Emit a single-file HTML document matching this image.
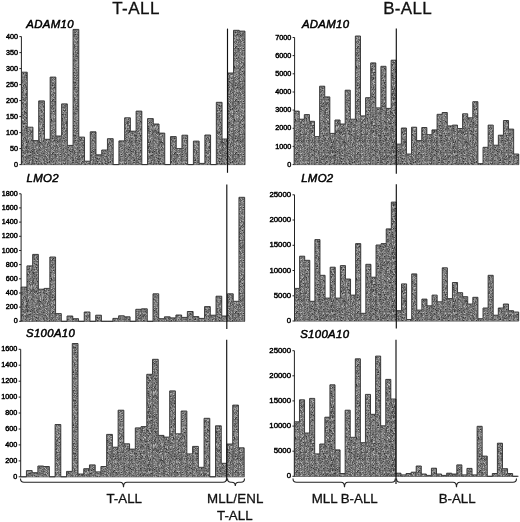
<!DOCTYPE html>
<html lang="en"><head><meta charset="utf-8"><title>T-ALL / B-ALL expression</title>
<style>
html,body{margin:0;padding:0;background:#fff}
body{width:520px;height:522px;overflow:hidden}
svg{display:block}
text{font-family:"Liberation Sans",sans-serif;fill:#111}
.t{stroke:#111;stroke-width:0.3}
.tk{fill:#000;stroke:#000;stroke-width:0.45}
.g{font-style:italic;fill:#000;stroke:#000;stroke-width:0.5;letter-spacing:0.33px}
</style></head><body>
<svg width="520" height="522" viewBox="0 0 520 522">
<defs><pattern id="st" width="61" height="53" patternUnits="userSpaceOnUse">
<rect width="61" height="53" fill="#787878"/>
<path d="M12 1.5h1M21 2.5h1M36 2.5h1M49 2.5h1M47 3.5h1M38 4.5h1M44 4.5h1M24 5.5h1M53 5.5h1M25 6.5h1M1 8.5h1M33 8.5h1M1 12.5h1M51 13.5h1M51 14.5h1M13 15.5h1M18 15.5h1M27 16.5h1M32 16.5h1M37 16.5h1M46 16.5h1M24 17.5h1M59 18.5h1M8 19.5h1M23 20.5h1M26 22.5h1M7 25.5h1M44 25.5h1M36 26.5h1M37 28.5h1M46 28.5h1M14 29.5h1M18 29.5h1M20 32.5h1M52 32.5h1M14 34.5h1M54 34.5h1M28 35.5h1M57 35.5h1M26 36.5h1M40 36.5h1M7 41.5h1M6 43.5h1M8 44.5h1M18 44.5h1M9 45.5h1M32 45.5h1M27 46.5h1M30 46.5h1M53 46.5h1M52 47.5h1M55 48.5h1M60 48.5h1M29 49.5h1M18 50.5h1M36 52.5h1" stroke="#343434" stroke-width="1" shape-rendering="crispEdges"/>
<path d="M12 0.5h1M16 0.5h1M17 0.5h1M43 0.5h1M46 0.5h1M52 0.5h1M6 1.5h1M11 1.5h1M25 1.5h1M29 1.5h1M32 1.5h1M44 2.5h1M53 2.5h1M11 3.5h1M12 3.5h1M16 3.5h1M29 3.5h1M49 3.5h1M2 4.5h1M4 4.5h1M20 4.5h1M28 4.5h1M34 4.5h1M41 4.5h1M55 4.5h1M0 5.5h1M31 5.5h1M20 6.5h1M14 7.5h1M26 7.5h1M29 7.5h1M32 7.5h1M33 7.5h1M50 7.5h1M4 8.5h1M23 9.5h1M27 9.5h1M28 9.5h1M58 9.5h1M6 10.5h1M36 10.5h1M39 10.5h1M44 10.5h1M21 11.5h1M26 11.5h1M34 11.5h1M50 11.5h1M26 12.5h1M32 12.5h1M41 12.5h1M6 13.5h1M8 13.5h1M24 13.5h1M36 13.5h1M59 13.5h1M1 14.5h1M58 14.5h1M60 14.5h1M6 15.5h1M33 15.5h1M44 15.5h1M5 16.5h1M19 16.5h1M29 16.5h1M57 16.5h1M5 17.5h1M23 17.5h1M33 17.5h1M29 18.5h1M43 18.5h1M9 19.5h1M12 19.5h1M13 19.5h1M32 19.5h1M38 19.5h1M48 19.5h1M10 20.5h1M26 20.5h1M43 20.5h1M56 20.5h1M60 20.5h1M20 21.5h1M57 21.5h1M1 22.5h1M3 22.5h1M13 22.5h1M21 22.5h1M36 22.5h1M42 22.5h1M18 23.5h1M7 24.5h1M9 24.5h1M12 24.5h1M14 24.5h1M26 24.5h1M33 24.5h1M43 24.5h1M56 24.5h1M28 25.5h1M48 25.5h1M55 25.5h1M56 25.5h1M6 26.5h1M31 26.5h1M10 27.5h1M17 27.5h1M21 27.5h1M30 27.5h1M34 27.5h1M40 27.5h1M43 27.5h1M0 28.5h1M44 28.5h1M56 28.5h1M57 28.5h1M12 29.5h1M13 29.5h1M40 29.5h1M18 30.5h1M4 31.5h1M24 31.5h1M2 32.5h1M9 32.5h1M14 32.5h1M23 32.5h1M25 32.5h1M45 32.5h1M49 33.5h1M3 34.5h1M7 34.5h1M19 34.5h1M31 34.5h1M43 34.5h1M46 34.5h1M9 35.5h1M17 35.5h1M39 35.5h1M43 35.5h1M6 36.5h1M38 36.5h1M39 36.5h1M48 36.5h1M17 37.5h1M23 37.5h1M27 38.5h1M47 38.5h1M2 39.5h1M10 39.5h1M22 39.5h1M49 39.5h1M56 39.5h1M26 40.5h1M27 40.5h1M39 40.5h1M16 41.5h1M26 41.5h1M40 41.5h1M26 42.5h1M28 42.5h1M2 43.5h1M11 43.5h1M34 43.5h1M39 43.5h1M22 44.5h1M31 44.5h1M13 45.5h1M27 45.5h1M36 45.5h1M23 46.5h1M9 47.5h1M13 47.5h1M34 47.5h1M37 47.5h1M43 47.5h1M7 48.5h1M7 49.5h1M30 49.5h1M47 49.5h1M3 50.5h1M22 50.5h1M45 50.5h1M21 51.5h1M25 51.5h1M34 51.5h1M38 52.5h1" stroke="#484848" stroke-width="1" shape-rendering="crispEdges"/>
<path d="M4 0.5h1M18 0.5h1M37 0.5h1M59 0.5h1M2 1.5h1M3 1.5h1M7 1.5h1M15 1.5h1M35 1.5h1M47 1.5h1M51 1.5h1M56 1.5h1M58 1.5h1M22 2.5h1M39 2.5h1M51 2.5h1M4 3.5h1M14 3.5h1M15 3.5h1M20 3.5h1M22 3.5h1M25 3.5h1M36 3.5h1M3 4.5h1M6 4.5h1M17 4.5h1M27 4.5h1M32 4.5h1M36 4.5h1M45 4.5h1M3 5.5h1M9 5.5h1M15 5.5h1M37 5.5h1M42 5.5h1M45 5.5h1M46 5.5h1M51 5.5h1M13 6.5h1M19 6.5h1M22 6.5h1M24 6.5h1M26 6.5h1M29 6.5h1M41 6.5h1M58 6.5h1M9 7.5h1M12 7.5h1M20 7.5h1M24 7.5h1M34 7.5h1M36 7.5h1M43 7.5h1M45 7.5h1M46 7.5h1M51 7.5h1M2 8.5h1M7 8.5h1M19 8.5h1M22 8.5h1M45 8.5h1M47 8.5h1M26 9.5h1M34 9.5h1M36 9.5h1M41 9.5h1M49 9.5h1M7 10.5h1M9 10.5h1M10 10.5h1M18 10.5h1M24 10.5h1M48 10.5h1M49 10.5h1M50 10.5h1M60 10.5h1M0 11.5h1M3 11.5h1M25 11.5h1M49 11.5h1M60 11.5h1M20 12.5h1M23 12.5h1M1 13.5h1M21 13.5h1M30 13.5h1M33 13.5h1M34 13.5h1M41 13.5h1M56 13.5h1M16 14.5h1M33 14.5h1M36 14.5h1M44 14.5h1M5 15.5h1M22 15.5h1M39 15.5h1M51 15.5h1M55 15.5h1M57 15.5h1M59 15.5h1M22 16.5h1M50 16.5h1M56 16.5h1M4 17.5h1M6 17.5h1M15 17.5h1M25 17.5h1M56 17.5h1M0 18.5h1M3 18.5h1M20 18.5h1M33 18.5h1M35 18.5h1M46 18.5h1M49 18.5h1M0 19.5h1M5 19.5h1M6 19.5h1M7 19.5h1M30 19.5h1M35 19.5h1M42 19.5h1M49 19.5h1M50 19.5h1M7 20.5h1M12 20.5h1M30 20.5h1M37 20.5h1M2 21.5h1M7 21.5h1M8 21.5h1M12 21.5h1M38 21.5h1M45 21.5h1M48 21.5h1M53 21.5h1M5 22.5h1M16 22.5h1M20 22.5h1M25 22.5h1M38 22.5h1M41 22.5h1M46 22.5h1M56 22.5h1M10 23.5h1M11 23.5h1M15 23.5h1M37 23.5h1M46 23.5h1M1 24.5h1M4 24.5h1M5 24.5h1M6 24.5h1M24 24.5h1M30 24.5h1M32 24.5h1M38 24.5h1M39 24.5h1M42 24.5h1M44 24.5h1M46 24.5h1M51 24.5h1M52 24.5h1M60 24.5h1M4 25.5h1M9 25.5h1M10 25.5h1M15 25.5h1M16 25.5h1M27 25.5h1M31 25.5h1M32 25.5h1M34 25.5h1M38 25.5h1M1 26.5h1M7 26.5h1M34 26.5h1M35 26.5h1M52 26.5h1M54 26.5h1M58 26.5h1M1 27.5h1M19 27.5h1M22 27.5h1M27 27.5h1M38 27.5h1M39 27.5h1M49 27.5h1M50 27.5h1M56 27.5h1M1 28.5h1M4 28.5h1M12 28.5h1M29 28.5h1M33 28.5h1M59 28.5h1M8 29.5h1M21 29.5h1M22 29.5h1M46 29.5h1M47 29.5h1M50 29.5h1M56 29.5h1M6 30.5h1M35 30.5h1M48 30.5h1M52 30.5h1M53 30.5h1M55 30.5h1M59 30.5h1M15 31.5h1M19 31.5h1M27 31.5h1M33 31.5h1M49 31.5h1M54 31.5h1M57 31.5h1M3 32.5h1M13 32.5h1M17 32.5h1M36 32.5h1M56 32.5h1M18 33.5h1M19 33.5h1M23 33.5h1M31 33.5h1M37 33.5h1M57 33.5h1M59 33.5h1M60 33.5h1M1 34.5h1M5 34.5h1M13 34.5h1M16 34.5h1M22 34.5h1M26 34.5h1M32 34.5h1M50 34.5h1M56 34.5h1M59 34.5h1M1 35.5h1M4 35.5h1M7 35.5h1M10 35.5h1M13 35.5h1M26 35.5h1M33 35.5h1M37 35.5h1M38 35.5h1M50 35.5h1M53 35.5h1M59 35.5h1M8 36.5h1M9 36.5h1M13 36.5h1M15 36.5h1M22 36.5h1M27 36.5h1M28 36.5h1M58 36.5h1M21 37.5h1M41 37.5h1M45 37.5h1M7 38.5h1M9 38.5h1M16 38.5h1M39 38.5h1M42 38.5h1M51 38.5h1M0 39.5h1M15 39.5h1M36 39.5h1M39 39.5h1M47 39.5h1M53 39.5h1M43 40.5h1M48 40.5h1M50 40.5h1M54 40.5h1M57 40.5h1M59 40.5h1M60 40.5h1M18 41.5h1M21 41.5h1M25 41.5h1M46 41.5h1M53 41.5h1M58 41.5h1M0 42.5h1M2 42.5h1M4 42.5h1M16 42.5h1M51 42.5h1M53 42.5h1M55 42.5h1M57 42.5h1M60 42.5h1M20 43.5h1M32 43.5h1M46 43.5h1M52 43.5h1M0 44.5h1M25 44.5h1M26 44.5h1M27 44.5h1M37 44.5h1M40 44.5h1M44 44.5h1M46 44.5h1M54 44.5h1M2 45.5h1M10 45.5h1M11 45.5h1M28 45.5h1M42 45.5h1M4 46.5h1M5 46.5h1M13 46.5h1M14 46.5h1M16 46.5h1M34 46.5h1M37 46.5h1M2 47.5h1M3 47.5h1M24 47.5h1M25 47.5h1M41 47.5h1M44 47.5h1M47 47.5h1M4 48.5h1M39 48.5h1M46 48.5h1M51 48.5h1M52 48.5h1M54 48.5h1M57 48.5h1M8 49.5h1M16 49.5h1M22 49.5h1M23 49.5h1M28 49.5h1M34 49.5h1M36 49.5h1M37 49.5h1M41 49.5h1M42 49.5h1M49 49.5h1M55 49.5h1M0 50.5h1M6 50.5h1M15 50.5h1M21 50.5h1M27 50.5h1M44 50.5h1M49 50.5h1M52 50.5h1M56 50.5h1M59 50.5h1M60 50.5h1M5 51.5h1M10 51.5h1M11 51.5h1M14 51.5h1M17 51.5h1M20 51.5h1M23 51.5h1M28 51.5h1M32 51.5h1M42 51.5h1M46 51.5h1M49 51.5h1M3 52.5h1M4 52.5h1M9 52.5h1M14 52.5h1M16 52.5h1M26 52.5h1M35 52.5h1M51 52.5h1M53 52.5h1" stroke="#5a5a5a" stroke-width="1" shape-rendering="crispEdges"/>
<path d="M19 0.5h1M23 0.5h1M26 0.5h1M30 0.5h1M31 0.5h1M32 0.5h1M36 0.5h1M38 0.5h1M40 0.5h1M47 0.5h1M49 0.5h1M0 1.5h1M1 1.5h1M4 1.5h1M14 1.5h1M30 1.5h1M43 1.5h1M44 1.5h1M50 1.5h1M59 1.5h1M14 2.5h1M15 2.5h1M18 2.5h1M26 2.5h1M29 2.5h1M32 2.5h1M37 2.5h1M45 2.5h1M46 2.5h1M32 3.5h1M41 3.5h1M48 3.5h1M52 3.5h1M0 4.5h1M10 4.5h1M18 4.5h1M21 4.5h1M29 4.5h1M31 4.5h1M33 4.5h1M40 4.5h1M47 4.5h1M59 4.5h1M16 5.5h1M19 5.5h1M20 5.5h1M34 5.5h1M38 5.5h1M41 5.5h1M54 5.5h1M57 5.5h1M2 6.5h1M5 6.5h1M6 6.5h1M28 6.5h1M30 6.5h1M54 6.5h1M10 7.5h1M13 7.5h1M15 7.5h1M35 7.5h1M44 7.5h1M56 7.5h1M60 7.5h1M13 8.5h1M18 8.5h1M20 8.5h1M21 8.5h1M24 8.5h1M27 8.5h1M29 8.5h1M34 8.5h1M54 8.5h1M58 8.5h1M2 9.5h1M4 9.5h1M6 9.5h1M7 9.5h1M11 9.5h1M17 9.5h1M21 9.5h1M30 9.5h1M43 9.5h1M47 9.5h1M48 9.5h1M50 9.5h1M55 9.5h1M59 9.5h1M12 10.5h1M21 10.5h1M27 10.5h1M33 10.5h1M47 10.5h1M56 10.5h1M57 10.5h1M5 11.5h1M9 11.5h1M12 11.5h1M14 11.5h1M18 11.5h1M23 11.5h1M29 11.5h1M32 11.5h1M35 11.5h1M40 11.5h1M43 11.5h1M45 11.5h1M0 12.5h1M3 12.5h1M8 12.5h1M9 12.5h1M10 12.5h1M39 12.5h1M42 12.5h1M45 12.5h1M48 12.5h1M53 12.5h1M59 12.5h1M60 12.5h1M9 13.5h1M10 13.5h1M11 13.5h1M14 13.5h1M38 13.5h1M40 13.5h1M42 13.5h1M44 13.5h1M49 13.5h1M50 13.5h1M53 13.5h1M9 14.5h1M11 14.5h1M17 14.5h1M24 14.5h1M25 14.5h1M29 14.5h1M39 14.5h1M42 14.5h1M46 14.5h1M48 14.5h1M52 14.5h1M55 14.5h1M1 15.5h1M9 15.5h1M23 15.5h1M26 15.5h1M28 15.5h1M30 15.5h1M32 15.5h1M36 15.5h1M43 15.5h1M50 15.5h1M52 15.5h1M53 15.5h1M54 15.5h1M2 16.5h1M6 16.5h1M8 16.5h1M20 16.5h1M41 16.5h1M43 16.5h1M45 16.5h1M1 17.5h1M2 17.5h1M9 17.5h1M10 17.5h1M12 17.5h1M17 17.5h1M22 17.5h1M26 17.5h1M31 17.5h1M32 17.5h1M45 17.5h1M46 17.5h1M47 17.5h1M48 17.5h1M57 17.5h1M1 18.5h1M2 18.5h1M5 18.5h1M10 18.5h1M23 18.5h1M40 18.5h1M42 18.5h1M45 18.5h1M47 18.5h1M2 19.5h1M11 19.5h1M15 19.5h1M16 19.5h1M29 19.5h1M31 19.5h1M51 19.5h1M52 19.5h1M56 19.5h1M57 19.5h1M0 20.5h1M2 20.5h1M14 20.5h1M17 20.5h1M19 20.5h1M36 20.5h1M42 20.5h1M44 20.5h1M45 20.5h1M46 20.5h1M55 20.5h1M0 21.5h1M3 21.5h1M16 21.5h1M19 21.5h1M25 21.5h1M47 21.5h1M49 21.5h1M50 21.5h1M56 21.5h1M58 21.5h1M59 21.5h1M0 22.5h1M6 22.5h1M7 22.5h1M8 22.5h1M14 22.5h1M15 22.5h1M18 22.5h1M19 22.5h1M33 22.5h1M37 22.5h1M58 22.5h1M2 23.5h1M5 23.5h1M19 23.5h1M21 23.5h1M24 23.5h1M26 23.5h1M27 23.5h1M29 23.5h1M35 23.5h1M39 23.5h1M40 23.5h1M42 23.5h1M53 23.5h1M54 23.5h1M59 23.5h1M16 24.5h1M20 24.5h1M22 24.5h1M27 24.5h1M34 24.5h1M54 24.5h1M2 25.5h1M5 25.5h1M11 25.5h1M13 25.5h1M20 25.5h1M26 25.5h1M30 25.5h1M33 25.5h1M36 25.5h1M37 25.5h1M40 25.5h1M45 25.5h1M46 25.5h1M49 25.5h1M51 25.5h1M53 25.5h1M3 26.5h1M10 26.5h1M12 26.5h1M13 26.5h1M25 26.5h1M27 26.5h1M30 26.5h1M33 26.5h1M45 26.5h1M46 26.5h1M50 26.5h1M60 26.5h1M0 27.5h1M4 27.5h1M5 27.5h1M6 27.5h1M9 27.5h1M11 27.5h1M15 27.5h1M16 27.5h1M24 27.5h1M35 27.5h1M36 27.5h1M44 27.5h1M51 27.5h1M60 27.5h1M3 28.5h1M10 28.5h1M21 28.5h1M22 28.5h1M23 28.5h1M30 28.5h1M35 28.5h1M45 28.5h1M50 28.5h1M51 28.5h1M58 28.5h1M60 28.5h1M2 29.5h1M19 29.5h1M20 29.5h1M27 29.5h1M34 29.5h1M51 29.5h1M52 29.5h1M3 30.5h1M12 30.5h1M13 30.5h1M14 30.5h1M27 30.5h1M31 30.5h1M39 30.5h1M40 30.5h1M45 30.5h1M49 30.5h1M0 31.5h1M2 31.5h1M8 31.5h1M10 31.5h1M13 31.5h1M25 31.5h1M32 31.5h1M46 31.5h1M50 31.5h1M52 31.5h1M0 32.5h1M7 32.5h1M10 32.5h1M29 32.5h1M32 32.5h1M33 32.5h1M34 32.5h1M41 32.5h1M43 32.5h1M48 32.5h1M49 32.5h1M50 32.5h1M51 32.5h1M53 32.5h1M54 32.5h1M55 32.5h1M60 32.5h1M4 33.5h1M7 33.5h1M20 33.5h1M25 33.5h1M26 33.5h1M36 33.5h1M38 33.5h1M39 33.5h1M41 33.5h1M46 33.5h1M54 33.5h1M17 34.5h1M20 34.5h1M21 34.5h1M25 34.5h1M28 34.5h1M38 34.5h1M41 34.5h1M51 34.5h1M53 34.5h1M55 34.5h1M58 34.5h1M60 34.5h1M3 35.5h1M18 35.5h1M23 35.5h1M30 35.5h1M45 35.5h1M51 35.5h1M52 35.5h1M58 35.5h1M60 35.5h1M3 36.5h1M20 36.5h1M21 36.5h1M33 36.5h1M34 36.5h1M37 36.5h1M45 36.5h1M46 36.5h1M52 36.5h1M56 36.5h1M3 37.5h1M9 37.5h1M10 37.5h1M16 37.5h1M20 37.5h1M27 37.5h1M29 37.5h1M32 37.5h1M34 37.5h1M35 37.5h1M37 37.5h1M38 37.5h1M40 37.5h1M47 37.5h1M48 37.5h1M49 37.5h1M53 37.5h1M57 37.5h1M14 38.5h1M15 38.5h1M19 38.5h1M21 38.5h1M22 38.5h1M23 38.5h1M36 38.5h1M37 38.5h1M41 38.5h1M59 38.5h1M60 38.5h1M6 39.5h1M8 39.5h1M11 39.5h1M12 39.5h1M21 39.5h1M27 39.5h1M31 39.5h1M35 39.5h1M42 39.5h1M43 39.5h1M50 39.5h1M54 39.5h1M59 39.5h1M4 40.5h1M6 40.5h1M8 40.5h1M20 40.5h1M25 40.5h1M28 40.5h1M29 40.5h1M35 40.5h1M47 40.5h1M55 40.5h1M3 41.5h1M6 41.5h1M11 41.5h1M23 41.5h1M28 41.5h1M31 41.5h1M32 41.5h1M35 41.5h1M38 41.5h1M42 41.5h1M44 41.5h1M45 41.5h1M47 41.5h1M50 41.5h1M51 41.5h1M52 41.5h1M57 41.5h1M5 42.5h1M9 42.5h1M14 42.5h1M22 42.5h1M24 42.5h1M29 42.5h1M31 42.5h1M36 42.5h1M41 42.5h1M43 42.5h1M1 43.5h1M9 43.5h1M12 43.5h1M15 43.5h1M16 43.5h1M27 43.5h1M29 43.5h1M33 43.5h1M45 43.5h1M47 43.5h1M50 43.5h1M2 44.5h1M12 44.5h1M13 44.5h1M19 44.5h1M23 44.5h1M28 44.5h1M33 44.5h1M34 44.5h1M38 44.5h1M39 44.5h1M56 44.5h1M57 44.5h1M4 45.5h1M6 45.5h1M18 45.5h1M24 45.5h1M25 45.5h1M29 45.5h1M30 45.5h1M33 45.5h1M44 45.5h1M45 45.5h1M47 45.5h1M48 45.5h1M49 45.5h1M50 45.5h1M55 45.5h1M57 45.5h1M58 45.5h1M1 46.5h1M11 46.5h1M17 46.5h1M18 46.5h1M19 46.5h1M21 46.5h1M22 46.5h1M25 46.5h1M28 46.5h1M31 46.5h1M41 46.5h1M46 46.5h1M49 46.5h1M57 46.5h1M60 46.5h1M0 47.5h1M16 47.5h1M32 47.5h1M42 47.5h1M50 47.5h1M3 48.5h1M6 48.5h1M14 48.5h1M16 48.5h1M20 48.5h1M30 48.5h1M32 48.5h1M35 48.5h1M50 48.5h1M53 48.5h1M58 48.5h1M1 49.5h1M3 49.5h1M11 49.5h1M20 49.5h1M21 49.5h1M39 49.5h1M40 49.5h1M54 49.5h1M58 49.5h1M9 50.5h1M16 50.5h1M20 50.5h1M25 50.5h1M26 50.5h1M28 50.5h1M30 50.5h1M39 50.5h1M40 50.5h1M43 50.5h1M55 50.5h1M27 51.5h1M31 51.5h1M54 51.5h1M55 51.5h1M11 52.5h1M18 52.5h1M19 52.5h1M21 52.5h1M23 52.5h1M28 52.5h1M29 52.5h1M32 52.5h1M46 52.5h1M47 52.5h1M49 52.5h1M52 52.5h1M57 52.5h1M59 52.5h1" stroke="#6a6a6a" stroke-width="1" shape-rendering="crispEdges"/>
<path d="M0 0.5h1M2 0.5h1M3 0.5h1M5 0.5h1M21 0.5h1M33 0.5h1M44 0.5h1M48 0.5h1M51 0.5h1M58 0.5h1M18 1.5h1M33 1.5h1M38 1.5h1M41 1.5h1M46 1.5h1M52 1.5h1M53 1.5h1M54 1.5h1M3 2.5h1M4 2.5h1M6 2.5h1M9 2.5h1M16 2.5h1M33 2.5h1M34 2.5h1M35 2.5h1M40 2.5h1M54 2.5h1M56 2.5h1M59 2.5h1M60 2.5h1M2 3.5h1M6 3.5h1M7 3.5h1M21 3.5h1M28 3.5h1M31 3.5h1M40 3.5h1M43 3.5h1M44 3.5h1M46 3.5h1M53 3.5h1M55 3.5h1M57 3.5h1M7 4.5h1M8 4.5h1M9 4.5h1M13 4.5h1M16 4.5h1M24 4.5h1M26 4.5h1M35 4.5h1M43 4.5h1M58 4.5h1M6 5.5h1M10 5.5h1M13 5.5h1M14 5.5h1M18 5.5h1M29 5.5h1M55 5.5h1M58 5.5h1M4 6.5h1M7 6.5h1M8 6.5h1M9 6.5h1M10 6.5h1M11 6.5h1M12 6.5h1M17 6.5h1M21 6.5h1M33 6.5h1M36 6.5h1M42 6.5h1M44 6.5h1M48 6.5h1M51 6.5h1M52 6.5h1M57 6.5h1M2 7.5h1M6 7.5h1M7 7.5h1M11 7.5h1M18 7.5h1M19 7.5h1M25 7.5h1M30 7.5h1M37 7.5h1M47 7.5h1M48 7.5h1M52 7.5h1M53 7.5h1M54 7.5h1M55 7.5h1M59 7.5h1M0 8.5h1M3 8.5h1M6 8.5h1M8 8.5h1M9 8.5h1M12 8.5h1M14 8.5h1M15 8.5h1M23 8.5h1M25 8.5h1M31 8.5h1M43 8.5h1M50 8.5h1M51 8.5h1M53 8.5h1M0 9.5h1M10 9.5h1M13 9.5h1M19 9.5h1M22 9.5h1M31 9.5h1M32 9.5h1M33 9.5h1M35 9.5h1M37 9.5h1M40 9.5h1M42 9.5h1M46 9.5h1M56 9.5h1M60 9.5h1M0 10.5h1M2 10.5h1M4 10.5h1M8 10.5h1M17 10.5h1M19 10.5h1M22 10.5h1M28 10.5h1M29 10.5h1M34 10.5h1M35 10.5h1M41 10.5h1M45 10.5h1M4 11.5h1M7 11.5h1M8 11.5h1M15 11.5h1M19 11.5h1M22 11.5h1M27 11.5h1M31 11.5h1M36 11.5h1M38 11.5h1M46 11.5h1M47 11.5h1M6 12.5h1M7 12.5h1M12 12.5h1M13 12.5h1M14 12.5h1M17 12.5h1M19 12.5h1M31 12.5h1M34 12.5h1M35 12.5h1M37 12.5h1M40 12.5h1M46 12.5h1M51 12.5h1M55 12.5h1M56 12.5h1M4 13.5h1M13 13.5h1M17 13.5h1M25 13.5h1M29 13.5h1M31 13.5h1M35 13.5h1M37 13.5h1M43 13.5h1M45 13.5h1M54 13.5h1M58 13.5h1M7 14.5h1M12 14.5h1M15 14.5h1M22 14.5h1M27 14.5h1M28 14.5h1M30 14.5h1M38 14.5h1M54 14.5h1M57 14.5h1M2 15.5h1M4 15.5h1M14 15.5h1M19 15.5h1M24 15.5h1M31 15.5h1M40 15.5h1M47 15.5h1M48 15.5h1M3 16.5h1M4 16.5h1M7 16.5h1M9 16.5h1M14 16.5h1M15 16.5h1M16 16.5h1M17 16.5h1M18 16.5h1M21 16.5h1M23 16.5h1M25 16.5h1M28 16.5h1M33 16.5h1M35 16.5h1M40 16.5h1M47 16.5h1M51 16.5h1M53 16.5h1M14 17.5h1M19 17.5h1M20 17.5h1M27 17.5h1M28 17.5h1M30 17.5h1M34 17.5h1M37 17.5h1M38 17.5h1M40 17.5h1M51 17.5h1M60 17.5h1M6 18.5h1M15 18.5h1M17 18.5h1M21 18.5h1M24 18.5h1M31 18.5h1M32 18.5h1M34 18.5h1M36 18.5h1M38 18.5h1M44 18.5h1M50 18.5h1M53 18.5h1M54 18.5h1M55 18.5h1M56 18.5h1M58 18.5h1M60 18.5h1M3 19.5h1M21 19.5h1M25 19.5h1M28 19.5h1M46 19.5h1M55 19.5h1M60 19.5h1M5 20.5h1M15 20.5h1M21 20.5h1M25 20.5h1M27 20.5h1M32 20.5h1M34 20.5h1M49 20.5h1M50 20.5h1M51 20.5h1M58 20.5h1M1 21.5h1M23 21.5h1M26 21.5h1M27 21.5h1M30 21.5h1M36 21.5h1M37 21.5h1M43 21.5h1M44 21.5h1M24 22.5h1M27 22.5h1M39 22.5h1M50 22.5h1M52 22.5h1M55 22.5h1M20 23.5h1M22 23.5h1M32 23.5h1M33 23.5h1M49 23.5h1M50 23.5h1M52 23.5h1M57 23.5h1M13 24.5h1M17 24.5h1M18 24.5h1M21 24.5h1M23 24.5h1M25 24.5h1M29 24.5h1M37 24.5h1M47 24.5h1M49 24.5h1M50 24.5h1M57 24.5h1M6 25.5h1M8 25.5h1M24 25.5h1M35 25.5h1M39 25.5h1M41 25.5h1M50 25.5h1M60 25.5h1M5 26.5h1M9 26.5h1M14 26.5h1M15 26.5h1M17 26.5h1M22 26.5h1M23 26.5h1M24 26.5h1M26 26.5h1M32 26.5h1M38 26.5h1M40 26.5h1M41 26.5h1M43 26.5h1M44 26.5h1M51 26.5h1M14 27.5h1M26 27.5h1M41 27.5h1M48 27.5h1M52 27.5h1M53 27.5h1M59 27.5h1M17 28.5h1M20 28.5h1M24 28.5h1M25 28.5h1M31 28.5h1M38 28.5h1M43 28.5h1M49 28.5h1M54 28.5h1M3 29.5h1M5 29.5h1M9 29.5h1M10 29.5h1M17 29.5h1M25 29.5h1M28 29.5h1M29 29.5h1M31 29.5h1M32 29.5h1M33 29.5h1M53 29.5h1M55 29.5h1M59 29.5h1M15 30.5h1M16 30.5h1M21 30.5h1M25 30.5h1M26 30.5h1M28 30.5h1M29 30.5h1M32 30.5h1M33 30.5h1M41 30.5h1M44 30.5h1M50 30.5h1M56 30.5h1M58 30.5h1M60 30.5h1M5 31.5h1M6 31.5h1M18 31.5h1M34 31.5h1M35 31.5h1M36 31.5h1M38 31.5h1M41 31.5h1M44 31.5h1M45 31.5h1M48 31.5h1M51 31.5h1M56 31.5h1M58 31.5h1M59 31.5h1M6 32.5h1M16 32.5h1M18 32.5h1M30 32.5h1M35 32.5h1M39 32.5h1M47 32.5h1M57 32.5h1M59 32.5h1M5 33.5h1M8 33.5h1M11 33.5h1M13 33.5h1M27 33.5h1M34 33.5h1M2 34.5h1M4 34.5h1M9 34.5h1M10 34.5h1M11 34.5h1M12 34.5h1M15 34.5h1M24 34.5h1M33 34.5h1M39 34.5h1M45 34.5h1M49 34.5h1M57 34.5h1M12 35.5h1M16 35.5h1M22 35.5h1M24 35.5h1M34 35.5h1M41 35.5h1M42 35.5h1M48 35.5h1M54 35.5h1M55 35.5h1M2 36.5h1M7 36.5h1M10 36.5h1M11 36.5h1M12 36.5h1M14 36.5h1M30 36.5h1M41 36.5h1M42 36.5h1M44 36.5h1M49 36.5h1M50 36.5h1M55 36.5h1M57 36.5h1M59 36.5h1M60 36.5h1M7 37.5h1M28 37.5h1M30 37.5h1M31 37.5h1M42 37.5h1M43 37.5h1M59 37.5h1M0 38.5h1M4 38.5h1M18 38.5h1M26 38.5h1M29 38.5h1M32 38.5h1M40 38.5h1M44 38.5h1M45 38.5h1M48 38.5h1M58 38.5h1M1 39.5h1M3 39.5h1M9 39.5h1M18 39.5h1M19 39.5h1M20 39.5h1M23 39.5h1M26 39.5h1M28 39.5h1M33 39.5h1M37 39.5h1M40 39.5h1M5 40.5h1M10 40.5h1M11 40.5h1M13 40.5h1M17 40.5h1M22 40.5h1M23 40.5h1M30 40.5h1M44 40.5h1M52 40.5h1M0 41.5h1M4 41.5h1M5 41.5h1M10 41.5h1M13 41.5h1M14 41.5h1M19 41.5h1M22 41.5h1M29 41.5h1M33 41.5h1M43 41.5h1M56 41.5h1M12 42.5h1M15 42.5h1M17 42.5h1M23 42.5h1M30 42.5h1M33 42.5h1M39 42.5h1M40 42.5h1M42 42.5h1M44 42.5h1M47 42.5h1M50 42.5h1M5 43.5h1M7 43.5h1M8 43.5h1M10 43.5h1M21 43.5h1M22 43.5h1M35 43.5h1M36 43.5h1M37 43.5h1M40 43.5h1M41 43.5h1M42 43.5h1M48 43.5h1M57 43.5h1M58 43.5h1M5 44.5h1M6 44.5h1M7 44.5h1M11 44.5h1M14 44.5h1M16 44.5h1M21 44.5h1M36 44.5h1M41 44.5h1M47 44.5h1M48 44.5h1M50 44.5h1M53 44.5h1M60 44.5h1M1 45.5h1M19 45.5h1M23 45.5h1M31 45.5h1M34 45.5h1M37 45.5h1M59 45.5h1M60 45.5h1M3 46.5h1M6 46.5h1M10 46.5h1M15 46.5h1M20 46.5h1M24 46.5h1M32 46.5h1M33 46.5h1M36 46.5h1M39 46.5h1M40 46.5h1M43 46.5h1M47 46.5h1M52 46.5h1M54 46.5h1M56 46.5h1M59 46.5h1M17 47.5h1M19 47.5h1M21 47.5h1M23 47.5h1M33 47.5h1M35 47.5h1M53 47.5h1M58 47.5h1M2 48.5h1M9 48.5h1M10 48.5h1M12 48.5h1M13 48.5h1M15 48.5h1M31 48.5h1M40 48.5h1M42 48.5h1M48 48.5h1M49 48.5h1M5 49.5h1M6 49.5h1M9 49.5h1M13 49.5h1M18 49.5h1M19 49.5h1M26 49.5h1M31 49.5h1M33 49.5h1M35 49.5h1M38 49.5h1M45 49.5h1M50 49.5h1M51 49.5h1M56 49.5h1M5 50.5h1M17 50.5h1M24 50.5h1M29 50.5h1M32 50.5h1M33 50.5h1M38 50.5h1M50 50.5h1M54 50.5h1M2 51.5h1M4 51.5h1M7 51.5h1M9 51.5h1M12 51.5h1M26 51.5h1M29 51.5h1M30 51.5h1M41 51.5h1M45 51.5h1M52 51.5h1M58 51.5h1M59 51.5h1M0 52.5h1M5 52.5h1M12 52.5h1M15 52.5h1M27 52.5h1M30 52.5h1M42 52.5h1M43 52.5h1M45 52.5h1M54 52.5h1" stroke="#787878" stroke-width="1" shape-rendering="crispEdges"/>
<path d="M1 0.5h1M7 0.5h1M9 0.5h1M10 0.5h1M11 0.5h1M14 0.5h1M15 0.5h1M20 0.5h1M22 0.5h1M24 0.5h1M25 0.5h1M28 0.5h1M34 0.5h1M35 0.5h1M41 0.5h1M42 0.5h1M50 0.5h1M54 0.5h1M57 0.5h1M60 0.5h1M8 1.5h1M10 1.5h1M13 1.5h1M19 1.5h1M20 1.5h1M22 1.5h1M23 1.5h1M24 1.5h1M28 1.5h1M37 1.5h1M39 1.5h1M40 1.5h1M60 1.5h1M2 2.5h1M5 2.5h1M7 2.5h1M8 2.5h1M11 2.5h1M13 2.5h1M19 2.5h1M23 2.5h1M24 2.5h1M25 2.5h1M27 2.5h1M28 2.5h1M31 2.5h1M47 2.5h1M52 2.5h1M57 2.5h1M8 3.5h1M9 3.5h1M10 3.5h1M13 3.5h1M33 3.5h1M34 3.5h1M51 3.5h1M11 4.5h1M14 4.5h1M37 4.5h1M39 4.5h1M46 4.5h1M50 4.5h1M51 4.5h1M53 4.5h1M54 4.5h1M1 5.5h1M4 5.5h1M7 5.5h1M11 5.5h1M23 5.5h1M25 5.5h1M26 5.5h1M28 5.5h1M30 5.5h1M33 5.5h1M39 5.5h1M40 5.5h1M52 5.5h1M56 5.5h1M59 5.5h1M60 5.5h1M0 6.5h1M1 6.5h1M14 6.5h1M16 6.5h1M18 6.5h1M31 6.5h1M32 6.5h1M35 6.5h1M37 6.5h1M46 6.5h1M59 6.5h1M60 6.5h1M4 7.5h1M5 7.5h1M8 7.5h1M16 7.5h1M17 7.5h1M22 7.5h1M31 7.5h1M38 7.5h1M39 7.5h1M40 7.5h1M49 7.5h1M57 7.5h1M58 7.5h1M5 8.5h1M10 8.5h1M11 8.5h1M17 8.5h1M26 8.5h1M35 8.5h1M36 8.5h1M38 8.5h1M42 8.5h1M44 8.5h1M48 8.5h1M55 8.5h1M56 8.5h1M57 8.5h1M1 9.5h1M5 9.5h1M14 9.5h1M38 9.5h1M39 9.5h1M51 9.5h1M52 9.5h1M53 9.5h1M1 10.5h1M3 10.5h1M11 10.5h1M13 10.5h1M15 10.5h1M16 10.5h1M20 10.5h1M25 10.5h1M31 10.5h1M42 10.5h1M43 10.5h1M51 10.5h1M53 10.5h1M54 10.5h1M58 10.5h1M59 10.5h1M1 11.5h1M2 11.5h1M6 11.5h1M20 11.5h1M24 11.5h1M28 11.5h1M33 11.5h1M39 11.5h1M41 11.5h1M51 11.5h1M53 11.5h1M55 11.5h1M56 11.5h1M58 11.5h1M11 12.5h1M16 12.5h1M18 12.5h1M22 12.5h1M25 12.5h1M28 12.5h1M30 12.5h1M36 12.5h1M38 12.5h1M43 12.5h1M54 12.5h1M0 13.5h1M2 13.5h1M3 13.5h1M5 13.5h1M15 13.5h1M18 13.5h1M20 13.5h1M26 13.5h1M28 13.5h1M39 13.5h1M55 13.5h1M57 13.5h1M60 13.5h1M3 14.5h1M4 14.5h1M5 14.5h1M14 14.5h1M18 14.5h1M20 14.5h1M21 14.5h1M31 14.5h1M32 14.5h1M34 14.5h1M35 14.5h1M43 14.5h1M53 14.5h1M11 15.5h1M12 15.5h1M20 15.5h1M29 15.5h1M35 15.5h1M37 15.5h1M41 15.5h1M42 15.5h1M46 15.5h1M49 15.5h1M56 15.5h1M58 15.5h1M60 15.5h1M1 16.5h1M13 16.5h1M24 16.5h1M34 16.5h1M36 16.5h1M39 16.5h1M42 16.5h1M44 16.5h1M48 16.5h1M52 16.5h1M11 17.5h1M18 17.5h1M21 17.5h1M29 17.5h1M35 17.5h1M36 17.5h1M42 17.5h1M43 17.5h1M52 17.5h1M58 17.5h1M9 18.5h1M11 18.5h1M13 18.5h1M16 18.5h1M18 18.5h1M22 18.5h1M27 18.5h1M28 18.5h1M37 18.5h1M39 18.5h1M48 18.5h1M52 18.5h1M1 19.5h1M10 19.5h1M14 19.5h1M17 19.5h1M22 19.5h1M26 19.5h1M27 19.5h1M34 19.5h1M43 19.5h1M44 19.5h1M45 19.5h1M53 19.5h1M54 19.5h1M3 20.5h1M9 20.5h1M11 20.5h1M16 20.5h1M18 20.5h1M20 20.5h1M22 20.5h1M28 20.5h1M35 20.5h1M47 20.5h1M48 20.5h1M52 20.5h1M9 21.5h1M11 21.5h1M15 21.5h1M17 21.5h1M21 21.5h1M22 21.5h1M28 21.5h1M34 21.5h1M39 21.5h1M41 21.5h1M42 21.5h1M60 21.5h1M2 22.5h1M11 22.5h1M12 22.5h1M17 22.5h1M22 22.5h1M29 22.5h1M40 22.5h1M44 22.5h1M51 22.5h1M59 22.5h1M60 22.5h1M3 23.5h1M6 23.5h1M9 23.5h1M12 23.5h1M13 23.5h1M23 23.5h1M25 23.5h1M28 23.5h1M30 23.5h1M38 23.5h1M44 23.5h1M55 23.5h1M56 23.5h1M60 23.5h1M8 24.5h1M10 24.5h1M19 24.5h1M31 24.5h1M36 24.5h1M41 24.5h1M48 24.5h1M58 24.5h1M0 25.5h1M1 25.5h1M3 25.5h1M18 25.5h1M22 25.5h1M23 25.5h1M42 25.5h1M43 25.5h1M58 25.5h1M59 25.5h1M0 26.5h1M11 26.5h1M29 26.5h1M37 26.5h1M55 26.5h1M23 27.5h1M28 27.5h1M32 27.5h1M42 27.5h1M45 27.5h1M47 27.5h1M55 27.5h1M5 28.5h1M6 28.5h1M7 28.5h1M8 28.5h1M13 28.5h1M14 28.5h1M15 28.5h1M27 28.5h1M32 28.5h1M39 28.5h1M40 28.5h1M41 28.5h1M42 28.5h1M47 28.5h1M48 28.5h1M0 29.5h1M4 29.5h1M11 29.5h1M15 29.5h1M16 29.5h1M23 29.5h1M24 29.5h1M26 29.5h1M30 29.5h1M36 29.5h1M37 29.5h1M41 29.5h1M48 29.5h1M49 29.5h1M54 29.5h1M0 30.5h1M1 30.5h1M2 30.5h1M4 30.5h1M17 30.5h1M22 30.5h1M23 30.5h1M24 30.5h1M30 30.5h1M34 30.5h1M36 30.5h1M38 30.5h1M46 30.5h1M47 30.5h1M51 30.5h1M54 30.5h1M57 30.5h1M1 31.5h1M9 31.5h1M14 31.5h1M20 31.5h1M37 31.5h1M39 31.5h1M40 31.5h1M43 31.5h1M55 31.5h1M60 31.5h1M1 32.5h1M11 32.5h1M12 32.5h1M27 32.5h1M37 32.5h1M38 32.5h1M46 32.5h1M9 33.5h1M10 33.5h1M16 33.5h1M21 33.5h1M24 33.5h1M28 33.5h1M29 33.5h1M35 33.5h1M43 33.5h1M44 33.5h1M48 33.5h1M50 33.5h1M51 33.5h1M52 33.5h1M55 33.5h1M0 34.5h1M6 34.5h1M8 34.5h1M18 34.5h1M23 34.5h1M29 34.5h1M30 34.5h1M34 34.5h1M44 34.5h1M48 34.5h1M6 35.5h1M14 35.5h1M19 35.5h1M31 35.5h1M32 35.5h1M35 35.5h1M36 35.5h1M0 36.5h1M1 36.5h1M4 36.5h1M5 36.5h1M16 36.5h1M17 36.5h1M23 36.5h1M25 36.5h1M29 36.5h1M31 36.5h1M36 36.5h1M51 36.5h1M53 36.5h1M0 37.5h1M4 37.5h1M5 37.5h1M8 37.5h1M13 37.5h1M14 37.5h1M15 37.5h1M18 37.5h1M19 37.5h1M25 37.5h1M36 37.5h1M39 37.5h1M50 37.5h1M60 37.5h1M1 38.5h1M10 38.5h1M11 38.5h1M13 38.5h1M20 38.5h1M28 38.5h1M30 38.5h1M31 38.5h1M35 38.5h1M38 38.5h1M43 38.5h1M49 38.5h1M53 38.5h1M56 38.5h1M4 39.5h1M14 39.5h1M16 39.5h1M17 39.5h1M30 39.5h1M32 39.5h1M34 39.5h1M55 39.5h1M57 39.5h1M58 39.5h1M60 39.5h1M1 40.5h1M2 40.5h1M9 40.5h1M21 40.5h1M31 40.5h1M33 40.5h1M34 40.5h1M36 40.5h1M45 40.5h1M46 40.5h1M53 40.5h1M56 40.5h1M1 41.5h1M2 41.5h1M9 41.5h1M12 41.5h1M17 41.5h1M27 41.5h1M34 41.5h1M55 41.5h1M3 42.5h1M6 42.5h1M7 42.5h1M13 42.5h1M18 42.5h1M25 42.5h1M37 42.5h1M48 42.5h1M3 43.5h1M4 43.5h1M17 43.5h1M19 43.5h1M25 43.5h1M30 43.5h1M38 43.5h1M49 43.5h1M54 43.5h1M55 43.5h1M59 43.5h1M1 44.5h1M3 44.5h1M10 44.5h1M20 44.5h1M29 44.5h1M30 44.5h1M43 44.5h1M51 44.5h1M55 44.5h1M58 44.5h1M59 44.5h1M7 45.5h1M8 45.5h1M16 45.5h1M17 45.5h1M20 45.5h1M21 45.5h1M22 45.5h1M26 45.5h1M38 45.5h1M39 45.5h1M43 45.5h1M52 45.5h1M54 45.5h1M2 46.5h1M7 46.5h1M8 46.5h1M9 46.5h1M12 46.5h1M26 46.5h1M29 46.5h1M35 46.5h1M42 46.5h1M45 46.5h1M50 46.5h1M51 46.5h1M55 46.5h1M1 47.5h1M8 47.5h1M12 47.5h1M22 47.5h1M27 47.5h1M31 47.5h1M38 47.5h1M45 47.5h1M49 47.5h1M54 47.5h1M0 48.5h1M1 48.5h1M8 48.5h1M17 48.5h1M19 48.5h1M24 48.5h1M26 48.5h1M36 48.5h1M41 48.5h1M43 48.5h1M45 48.5h1M47 48.5h1M59 48.5h1M2 49.5h1M4 49.5h1M12 49.5h1M14 49.5h1M17 49.5h1M43 49.5h1M48 49.5h1M52 49.5h1M57 49.5h1M1 50.5h1M4 50.5h1M8 50.5h1M10 50.5h1M11 50.5h1M13 50.5h1M14 50.5h1M23 50.5h1M31 50.5h1M34 50.5h1M36 50.5h1M37 50.5h1M41 50.5h1M42 50.5h1M46 50.5h1M48 50.5h1M51 50.5h1M53 50.5h1M58 50.5h1M1 51.5h1M8 51.5h1M16 51.5h1M18 51.5h1M19 51.5h1M22 51.5h1M24 51.5h1M33 51.5h1M35 51.5h1M36 51.5h1M39 51.5h1M40 51.5h1M44 51.5h1M48 51.5h1M50 51.5h1M53 51.5h1M1 52.5h1M7 52.5h1M10 52.5h1M13 52.5h1M17 52.5h1M20 52.5h1M25 52.5h1M34 52.5h1M37 52.5h1M39 52.5h1M41 52.5h1M44 52.5h1M50 52.5h1M55 52.5h1M56 52.5h1M58 52.5h1M60 52.5h1" stroke="#868686" stroke-width="1" shape-rendering="crispEdges"/>
<path d="M6 0.5h1M8 0.5h1M13 0.5h1M29 0.5h1M39 0.5h1M45 0.5h1M53 0.5h1M55 0.5h1M5 1.5h1M16 1.5h1M17 1.5h1M26 1.5h1M27 1.5h1M31 1.5h1M34 1.5h1M42 1.5h1M45 1.5h1M48 1.5h1M57 1.5h1M0 2.5h1M1 2.5h1M10 2.5h1M17 2.5h1M38 2.5h1M41 2.5h1M42 2.5h1M48 2.5h1M50 2.5h1M55 2.5h1M58 2.5h1M1 3.5h1M5 3.5h1M17 3.5h1M18 3.5h1M23 3.5h1M27 3.5h1M37 3.5h1M42 3.5h1M50 3.5h1M54 3.5h1M58 3.5h1M1 4.5h1M5 4.5h1M15 4.5h1M19 4.5h1M22 4.5h1M23 4.5h1M25 4.5h1M30 4.5h1M42 4.5h1M48 4.5h1M49 4.5h1M56 4.5h1M57 4.5h1M8 5.5h1M12 5.5h1M17 5.5h1M22 5.5h1M32 5.5h1M44 5.5h1M48 5.5h1M50 5.5h1M3 6.5h1M15 6.5h1M23 6.5h1M39 6.5h1M40 6.5h1M43 6.5h1M45 6.5h1M47 6.5h1M50 6.5h1M55 6.5h1M56 6.5h1M0 7.5h1M1 7.5h1M3 7.5h1M23 7.5h1M27 7.5h1M28 7.5h1M42 7.5h1M16 8.5h1M30 8.5h1M32 8.5h1M39 8.5h1M40 8.5h1M41 8.5h1M46 8.5h1M52 8.5h1M8 9.5h1M12 9.5h1M16 9.5h1M20 9.5h1M29 9.5h1M45 9.5h1M5 10.5h1M14 10.5h1M23 10.5h1M32 10.5h1M38 10.5h1M40 10.5h1M10 11.5h1M13 11.5h1M16 11.5h1M30 11.5h1M37 11.5h1M48 11.5h1M52 11.5h1M57 11.5h1M2 12.5h1M4 12.5h1M15 12.5h1M24 12.5h1M29 12.5h1M33 12.5h1M49 12.5h1M52 12.5h1M57 12.5h1M7 13.5h1M12 13.5h1M19 13.5h1M27 13.5h1M32 13.5h1M46 13.5h1M47 13.5h1M0 14.5h1M2 14.5h1M6 14.5h1M8 14.5h1M10 14.5h1M19 14.5h1M26 14.5h1M37 14.5h1M40 14.5h1M41 14.5h1M47 14.5h1M49 14.5h1M59 14.5h1M0 15.5h1M3 15.5h1M7 15.5h1M8 15.5h1M10 15.5h1M15 15.5h1M16 15.5h1M17 15.5h1M25 15.5h1M27 15.5h1M34 15.5h1M38 15.5h1M45 15.5h1M10 16.5h1M11 16.5h1M12 16.5h1M30 16.5h1M38 16.5h1M49 16.5h1M54 16.5h1M58 16.5h1M60 16.5h1M0 17.5h1M3 17.5h1M13 17.5h1M16 17.5h1M39 17.5h1M41 17.5h1M44 17.5h1M53 17.5h1M54 17.5h1M55 17.5h1M8 18.5h1M14 18.5h1M19 18.5h1M25 18.5h1M57 18.5h1M20 19.5h1M33 19.5h1M37 19.5h1M40 19.5h1M47 19.5h1M58 19.5h1M59 19.5h1M4 20.5h1M6 20.5h1M8 20.5h1M13 20.5h1M24 20.5h1M29 20.5h1M38 20.5h1M39 20.5h1M41 20.5h1M53 20.5h1M54 20.5h1M59 20.5h1M4 21.5h1M5 21.5h1M10 21.5h1M13 21.5h1M14 21.5h1M18 21.5h1M24 21.5h1M33 21.5h1M46 21.5h1M51 21.5h1M52 21.5h1M54 21.5h1M55 21.5h1M4 22.5h1M9 22.5h1M10 22.5h1M28 22.5h1M30 22.5h1M32 22.5h1M34 22.5h1M35 22.5h1M43 22.5h1M47 22.5h1M53 22.5h1M54 22.5h1M57 22.5h1M1 23.5h1M7 23.5h1M8 23.5h1M16 23.5h1M17 23.5h1M34 23.5h1M36 23.5h1M47 23.5h1M2 24.5h1M15 24.5h1M35 24.5h1M55 24.5h1M59 24.5h1M12 25.5h1M14 25.5h1M19 25.5h1M21 25.5h1M25 25.5h1M29 25.5h1M47 25.5h1M52 25.5h1M54 25.5h1M57 25.5h1M2 26.5h1M4 26.5h1M8 26.5h1M21 26.5h1M48 26.5h1M53 26.5h1M56 26.5h1M59 26.5h1M2 27.5h1M8 27.5h1M12 27.5h1M18 27.5h1M20 27.5h1M25 27.5h1M29 27.5h1M33 27.5h1M37 27.5h1M58 27.5h1M2 28.5h1M11 28.5h1M16 28.5h1M18 28.5h1M19 28.5h1M28 28.5h1M36 28.5h1M55 28.5h1M6 29.5h1M42 29.5h1M44 29.5h1M45 29.5h1M57 29.5h1M60 29.5h1M5 30.5h1M11 30.5h1M37 30.5h1M42 30.5h1M3 31.5h1M7 31.5h1M11 31.5h1M16 31.5h1M17 31.5h1M21 31.5h1M22 31.5h1M23 31.5h1M28 31.5h1M30 31.5h1M31 31.5h1M53 31.5h1M4 32.5h1M5 32.5h1M8 32.5h1M19 32.5h1M21 32.5h1M22 32.5h1M24 32.5h1M26 32.5h1M31 32.5h1M42 32.5h1M44 32.5h1M58 32.5h1M1 33.5h1M2 33.5h1M3 33.5h1M6 33.5h1M12 33.5h1M14 33.5h1M15 33.5h1M17 33.5h1M30 33.5h1M32 33.5h1M33 33.5h1M45 33.5h1M47 33.5h1M56 33.5h1M58 33.5h1M27 34.5h1M35 34.5h1M36 34.5h1M37 34.5h1M40 34.5h1M42 34.5h1M47 34.5h1M0 35.5h1M5 35.5h1M8 35.5h1M11 35.5h1M15 35.5h1M20 35.5h1M25 35.5h1M27 35.5h1M29 35.5h1M44 35.5h1M47 35.5h1M49 35.5h1M19 36.5h1M43 36.5h1M54 36.5h1M2 37.5h1M6 37.5h1M11 37.5h1M12 37.5h1M22 37.5h1M33 37.5h1M46 37.5h1M51 37.5h1M55 37.5h1M56 37.5h1M58 37.5h1M2 38.5h1M3 38.5h1M5 38.5h1M17 38.5h1M33 38.5h1M34 38.5h1M46 38.5h1M50 38.5h1M52 38.5h1M55 38.5h1M5 39.5h1M24 39.5h1M29 39.5h1M38 39.5h1M41 39.5h1M45 39.5h1M46 39.5h1M51 39.5h1M52 39.5h1M0 40.5h1M7 40.5h1M15 40.5h1M16 40.5h1M18 40.5h1M19 40.5h1M24 40.5h1M37 40.5h1M38 40.5h1M40 40.5h1M42 40.5h1M49 40.5h1M8 41.5h1M15 41.5h1M24 41.5h1M30 41.5h1M36 41.5h1M48 41.5h1M49 41.5h1M59 41.5h1M60 41.5h1M1 42.5h1M8 42.5h1M11 42.5h1M19 42.5h1M20 42.5h1M21 42.5h1M27 42.5h1M35 42.5h1M38 42.5h1M45 42.5h1M49 42.5h1M52 42.5h1M54 42.5h1M58 42.5h1M18 43.5h1M24 43.5h1M26 43.5h1M31 43.5h1M43 43.5h1M51 43.5h1M53 43.5h1M60 43.5h1M4 44.5h1M9 44.5h1M15 44.5h1M17 44.5h1M24 44.5h1M42 44.5h1M49 44.5h1M0 45.5h1M3 45.5h1M5 45.5h1M14 45.5h1M15 45.5h1M35 45.5h1M40 45.5h1M41 45.5h1M51 45.5h1M56 45.5h1M0 46.5h1M38 46.5h1M44 46.5h1M48 46.5h1M58 46.5h1M5 47.5h1M6 47.5h1M7 47.5h1M10 47.5h1M11 47.5h1M14 47.5h1M18 47.5h1M20 47.5h1M28 47.5h1M29 47.5h1M36 47.5h1M39 47.5h1M40 47.5h1M59 47.5h1M22 48.5h1M23 48.5h1M25 48.5h1M28 48.5h1M29 48.5h1M33 48.5h1M34 48.5h1M38 48.5h1M44 48.5h1M56 48.5h1M0 49.5h1M15 49.5h1M27 49.5h1M53 49.5h1M59 49.5h1M2 50.5h1M7 50.5h1M12 50.5h1M35 50.5h1M47 50.5h1M57 50.5h1M0 51.5h1M6 51.5h1M38 51.5h1M56 51.5h1M60 51.5h1M2 52.5h1M6 52.5h1M8 52.5h1M22 52.5h1M24 52.5h1M40 52.5h1M48 52.5h1" stroke="#969696" stroke-width="1" shape-rendering="crispEdges"/>
<path d="M27 0.5h1M56 0.5h1M9 1.5h1M21 1.5h1M36 1.5h1M49 1.5h1M55 1.5h1M12 2.5h1M20 2.5h1M43 2.5h1M0 3.5h1M19 3.5h1M24 3.5h1M26 3.5h1M30 3.5h1M35 3.5h1M38 3.5h1M39 3.5h1M45 3.5h1M56 3.5h1M59 3.5h1M60 3.5h1M12 4.5h1M52 4.5h1M60 4.5h1M5 5.5h1M27 5.5h1M35 5.5h1M36 5.5h1M47 5.5h1M49 5.5h1M27 6.5h1M34 6.5h1M38 6.5h1M21 7.5h1M41 7.5h1M59 8.5h1M60 8.5h1M3 9.5h1M9 9.5h1M15 9.5h1M24 9.5h1M25 9.5h1M44 9.5h1M26 10.5h1M30 10.5h1M37 10.5h1M46 10.5h1M52 10.5h1M11 11.5h1M17 11.5h1M42 11.5h1M59 11.5h1M21 12.5h1M27 12.5h1M44 12.5h1M47 12.5h1M50 12.5h1M16 13.5h1M48 13.5h1M52 13.5h1M13 14.5h1M23 14.5h1M0 16.5h1M55 16.5h1M59 16.5h1M8 17.5h1M49 17.5h1M50 17.5h1M59 17.5h1M4 18.5h1M12 18.5h1M26 18.5h1M30 18.5h1M41 18.5h1M51 18.5h1M18 19.5h1M19 19.5h1M23 19.5h1M24 19.5h1M36 19.5h1M39 19.5h1M1 20.5h1M31 20.5h1M40 20.5h1M57 20.5h1M6 21.5h1M29 21.5h1M32 21.5h1M35 21.5h1M40 21.5h1M23 22.5h1M31 22.5h1M45 22.5h1M49 22.5h1M0 23.5h1M4 23.5h1M31 23.5h1M41 23.5h1M43 23.5h1M45 23.5h1M48 23.5h1M58 23.5h1M0 24.5h1M3 24.5h1M11 24.5h1M28 24.5h1M40 24.5h1M53 24.5h1M17 25.5h1M16 26.5h1M18 26.5h1M19 26.5h1M20 26.5h1M28 26.5h1M42 26.5h1M47 26.5h1M49 26.5h1M57 26.5h1M3 27.5h1M13 27.5h1M31 27.5h1M46 27.5h1M54 27.5h1M57 27.5h1M9 28.5h1M34 28.5h1M52 28.5h1M53 28.5h1M7 29.5h1M39 29.5h1M43 29.5h1M58 29.5h1M7 30.5h1M9 30.5h1M10 30.5h1M43 30.5h1M12 31.5h1M26 31.5h1M29 31.5h1M42 31.5h1M47 31.5h1M15 32.5h1M40 32.5h1M0 33.5h1M22 33.5h1M42 33.5h1M53 33.5h1M52 34.5h1M2 35.5h1M21 35.5h1M46 35.5h1M56 35.5h1M18 36.5h1M24 36.5h1M32 36.5h1M35 36.5h1M47 36.5h1M1 37.5h1M24 37.5h1M44 37.5h1M52 37.5h1M54 37.5h1M6 38.5h1M8 38.5h1M12 38.5h1M24 38.5h1M25 38.5h1M54 38.5h1M7 39.5h1M13 39.5h1M25 39.5h1M44 39.5h1M48 39.5h1M3 40.5h1M12 40.5h1M14 40.5h1M32 40.5h1M41 40.5h1M51 40.5h1M58 40.5h1M20 41.5h1M39 41.5h1M41 41.5h1M54 41.5h1M10 42.5h1M32 42.5h1M34 42.5h1M46 42.5h1M56 42.5h1M59 42.5h1M0 43.5h1M13 43.5h1M14 43.5h1M23 43.5h1M28 43.5h1M44 43.5h1M32 44.5h1M35 44.5h1M52 44.5h1M12 45.5h1M46 45.5h1M53 45.5h1M4 47.5h1M15 47.5h1M30 47.5h1M46 47.5h1M48 47.5h1M56 47.5h1M60 47.5h1M5 48.5h1M11 48.5h1M21 48.5h1M27 48.5h1M10 49.5h1M25 49.5h1M32 49.5h1M44 49.5h1M60 49.5h1M3 51.5h1M13 51.5h1M15 51.5h1M37 51.5h1M43 51.5h1M47 51.5h1M51 51.5h1M31 52.5h1M33 52.5h1" stroke="#a8a8a8" stroke-width="1" shape-rendering="crispEdges"/>
<path d="M30 2.5h1M3 3.5h1M2 5.5h1M21 5.5h1M43 5.5h1M49 6.5h1M53 6.5h1M28 8.5h1M37 8.5h1M49 8.5h1M18 9.5h1M54 9.5h1M57 9.5h1M55 10.5h1M44 11.5h1M54 11.5h1M5 12.5h1M58 12.5h1M22 13.5h1M23 13.5h1M45 14.5h1M50 14.5h1M56 14.5h1M21 15.5h1M26 16.5h1M31 16.5h1M7 17.5h1M7 18.5h1M4 19.5h1M41 19.5h1M33 20.5h1M31 21.5h1M48 22.5h1M14 23.5h1M51 23.5h1M45 24.5h1M39 26.5h1M7 27.5h1M26 28.5h1M1 29.5h1M35 29.5h1M38 29.5h1M8 30.5h1M19 30.5h1M20 30.5h1M28 32.5h1M40 33.5h1M40 35.5h1M26 37.5h1M57 38.5h1M37 41.5h1M56 43.5h1M45 44.5h1M26 47.5h1M51 47.5h1M55 47.5h1M57 47.5h1M18 48.5h1M37 48.5h1M24 49.5h1M46 49.5h1M19 50.5h1M57 51.5h1" stroke="#bebebe" stroke-width="1" shape-rendering="crispEdges"/>
</pattern></defs>
<rect width="520" height="522" fill="#fff"/>
<path d="M21.4 36.5V164.6" stroke="#222" stroke-width="1" fill="none"/>
<path d="M20.9 164.6H245.2" stroke="#3a3a3a" stroke-width="0.9" fill="none"/>
<path d="M19.4 164.6H21.4" stroke="#222" stroke-width="1" fill="none"/>
<text x="18.0" y="166.7" font-size="7.2" text-anchor="end" class="tk">0</text>
<path d="M19.4 148.6H21.4" stroke="#222" stroke-width="1" fill="none"/>
<text x="18.0" y="150.7" font-size="7.2" text-anchor="end" class="tk">50</text>
<path d="M19.4 132.6H21.4" stroke="#222" stroke-width="1" fill="none"/>
<text x="18.0" y="134.7" font-size="7.2" text-anchor="end" class="tk">100</text>
<path d="M19.4 116.6H21.4" stroke="#222" stroke-width="1" fill="none"/>
<text x="18.0" y="118.7" font-size="7.2" text-anchor="end" class="tk">150</text>
<path d="M19.4 100.6H21.4" stroke="#222" stroke-width="1" fill="none"/>
<text x="18.0" y="102.7" font-size="7.2" text-anchor="end" class="tk">200</text>
<path d="M19.4 84.6H21.4" stroke="#222" stroke-width="1" fill="none"/>
<text x="18.0" y="86.7" font-size="7.2" text-anchor="end" class="tk">250</text>
<path d="M19.4 68.6H21.4" stroke="#222" stroke-width="1" fill="none"/>
<text x="18.0" y="70.7" font-size="7.2" text-anchor="end" class="tk">300</text>
<path d="M19.4 52.6H21.4" stroke="#222" stroke-width="1" fill="none"/>
<text x="18.0" y="54.7" font-size="7.2" text-anchor="end" class="tk">350</text>
<path d="M19.4 36.6H21.4" stroke="#222" stroke-width="1" fill="none"/>
<text x="18.0" y="38.7" font-size="7.2" text-anchor="end" class="tk">400</text>
<rect x="21.50" y="72.20" width="5.78" height="92.40" fill="url(#st)"/>
<rect x="27.23" y="127.20" width="5.78" height="37.40" fill="url(#st)"/>
<rect x="32.96" y="140.60" width="5.78" height="24.00" fill="url(#st)"/>
<rect x="38.69" y="100.90" width="5.78" height="63.70" fill="url(#st)"/>
<rect x="44.42" y="139.30" width="5.78" height="25.30" fill="url(#st)"/>
<rect x="50.15" y="77.10" width="5.78" height="87.50" fill="url(#st)"/>
<rect x="55.88" y="136.00" width="5.78" height="28.60" fill="url(#st)"/>
<rect x="61.61" y="103.90" width="5.78" height="60.70" fill="url(#st)"/>
<rect x="67.34" y="145.40" width="5.78" height="19.20" fill="url(#st)"/>
<rect x="73.07" y="29.40" width="5.78" height="135.20" fill="url(#st)"/>
<rect x="78.80" y="137.10" width="5.78" height="27.50" fill="url(#st)"/>
<rect x="84.53" y="161.20" width="5.78" height="3.40" fill="url(#st)"/>
<rect x="90.26" y="131.80" width="5.78" height="32.80" fill="url(#st)"/>
<rect x="95.99" y="154.80" width="5.78" height="9.80" fill="url(#st)"/>
<rect x="101.72" y="150.00" width="5.78" height="14.60" fill="url(#st)"/>
<rect x="107.45" y="138.70" width="5.78" height="25.90" fill="url(#st)"/>
<rect x="118.91" y="140.90" width="5.78" height="23.70" fill="url(#st)"/>
<rect x="124.64" y="117.80" width="5.78" height="46.80" fill="url(#st)"/>
<rect x="130.37" y="131.20" width="5.78" height="33.40" fill="url(#st)"/>
<rect x="136.10" y="111.10" width="5.78" height="53.50" fill="url(#st)"/>
<rect x="147.56" y="118.60" width="5.78" height="46.00" fill="url(#st)"/>
<rect x="153.29" y="124.00" width="5.78" height="40.60" fill="url(#st)"/>
<rect x="159.02" y="133.10" width="5.78" height="31.50" fill="url(#st)"/>
<rect x="170.48" y="136.60" width="5.78" height="28.00" fill="url(#st)"/>
<rect x="176.21" y="148.60" width="5.78" height="16.00" fill="url(#st)"/>
<rect x="181.94" y="135.20" width="5.78" height="29.40" fill="url(#st)"/>
<rect x="193.40" y="141.10" width="5.78" height="23.50" fill="url(#st)"/>
<rect x="199.13" y="163.40" width="5.78" height="1.20" fill="url(#st)"/>
<rect x="204.86" y="135.00" width="5.78" height="29.60" fill="url(#st)"/>
<rect x="216.32" y="102.30" width="5.78" height="62.30" fill="url(#st)"/>
<rect x="222.05" y="139.00" width="5.78" height="25.60" fill="url(#st)"/>
<rect x="227.78" y="73.00" width="5.78" height="91.60" fill="url(#st)"/>
<rect x="233.51" y="30.30" width="5.78" height="134.30" fill="url(#st)"/>
<rect x="239.24" y="31.10" width="5.78" height="133.50" fill="url(#st)"/>
<path d="M27.23 127.20V164.60M32.96 140.60V164.60M38.69 140.60V164.60M44.42 139.30V164.60M50.15 139.30V164.60M55.88 136.00V164.60M61.61 136.00V164.60M67.34 145.40V164.60M73.07 145.40V164.60M78.80 137.10V164.60M84.53 161.20V164.60M90.26 161.20V164.60M95.99 154.80V164.60M101.72 154.80V164.60M107.45 150.00V164.60M124.64 140.90V164.60M130.37 131.20V164.60M136.10 131.20V164.60M153.29 124.00V164.60M159.02 133.10V164.60M176.21 148.60V164.60M181.94 148.60V164.60M199.13 163.40V164.60M204.86 163.40V164.60M222.05 139.00V164.60M227.78 139.00V164.60M233.51 73.00V164.60M239.24 31.10V164.60" stroke="#333" stroke-opacity="0.65" stroke-width="0.8" fill="none"/>
<path d="M21.50 164.60V72.20H27.23V127.20H32.96V140.60H38.69V100.90H44.42V139.30H50.15V77.10H55.88V136.00H61.61V103.90H67.34V145.40H73.07V29.40H78.80V137.10H84.53V161.20H90.26V131.80H95.99V154.80H101.72V150.00H107.45V138.70H113.18V164.60H118.91V140.90H124.64V117.80H130.37V131.20H136.10V111.10H141.83V164.60H147.56V118.60H153.29V124.00H159.02V133.10H164.75V164.60H170.48V136.60H176.21V148.60H181.94V135.20H187.67V164.60H193.40V141.10H199.13V163.40H204.86V135.00H210.59V164.60H216.32V102.30H222.05V139.00H227.78V73.00H233.51V30.30H239.24V31.10H244.97V164.60" stroke="#2e2e2e" stroke-width="0.90" fill="none" stroke-linejoin="miter"/>
<path d="M21.1 193.8V321.3" stroke="#222" stroke-width="1" fill="none"/>
<path d="M20.6 321.3H245.0" stroke="#3a3a3a" stroke-width="0.9" fill="none"/>
<path d="M19.1 321.3H21.1" stroke="#222" stroke-width="1" fill="none"/>
<text x="17.7" y="323.4" font-size="7.2" text-anchor="end" class="tk">0</text>
<path d="M19.1 307.1H21.1" stroke="#222" stroke-width="1" fill="none"/>
<text x="17.7" y="309.2" font-size="7.2" text-anchor="end" class="tk">200</text>
<path d="M19.1 293.0H21.1" stroke="#222" stroke-width="1" fill="none"/>
<text x="17.7" y="295.1" font-size="7.2" text-anchor="end" class="tk">400</text>
<path d="M19.1 278.8H21.1" stroke="#222" stroke-width="1" fill="none"/>
<text x="17.7" y="280.9" font-size="7.2" text-anchor="end" class="tk">600</text>
<path d="M19.1 264.6H21.1" stroke="#222" stroke-width="1" fill="none"/>
<text x="17.7" y="266.7" font-size="7.2" text-anchor="end" class="tk">800</text>
<path d="M19.1 250.5H21.1" stroke="#222" stroke-width="1" fill="none"/>
<text x="17.7" y="252.6" font-size="7.2" text-anchor="end" class="tk">1000</text>
<path d="M19.1 236.3H21.1" stroke="#222" stroke-width="1" fill="none"/>
<text x="17.7" y="238.4" font-size="7.2" text-anchor="end" class="tk">1200</text>
<path d="M19.1 222.1H21.1" stroke="#222" stroke-width="1" fill="none"/>
<text x="17.7" y="224.2" font-size="7.2" text-anchor="end" class="tk">1400</text>
<path d="M19.1 207.9H21.1" stroke="#222" stroke-width="1" fill="none"/>
<text x="17.7" y="210.0" font-size="7.2" text-anchor="end" class="tk">1600</text>
<path d="M19.1 193.8H21.1" stroke="#222" stroke-width="1" fill="none"/>
<text x="17.7" y="195.9" font-size="7.2" text-anchor="end" class="tk">1800</text>
<rect x="21.20" y="287.10" width="5.78" height="34.20" fill="url(#st)"/>
<rect x="26.93" y="265.90" width="5.78" height="55.40" fill="url(#st)"/>
<rect x="32.66" y="254.40" width="5.78" height="66.90" fill="url(#st)"/>
<rect x="38.39" y="289.20" width="5.78" height="32.10" fill="url(#st)"/>
<rect x="44.12" y="288.40" width="5.78" height="32.90" fill="url(#st)"/>
<rect x="49.85" y="257.00" width="5.78" height="64.30" fill="url(#st)"/>
<rect x="55.58" y="313.60" width="5.78" height="7.70" fill="url(#st)"/>
<rect x="67.04" y="316.00" width="5.78" height="5.30" fill="url(#st)"/>
<rect x="72.77" y="318.70" width="5.78" height="2.60" fill="url(#st)"/>
<rect x="84.23" y="312.00" width="5.78" height="9.30" fill="url(#st)"/>
<rect x="95.69" y="315.20" width="5.78" height="6.10" fill="url(#st)"/>
<rect x="112.88" y="318.40" width="5.78" height="2.90" fill="url(#st)"/>
<rect x="118.61" y="315.80" width="5.78" height="5.50" fill="url(#st)"/>
<rect x="124.34" y="316.80" width="5.78" height="4.50" fill="url(#st)"/>
<rect x="135.80" y="309.30" width="5.78" height="12.00" fill="url(#st)"/>
<rect x="141.53" y="308.80" width="5.78" height="12.50" fill="url(#st)"/>
<rect x="152.99" y="293.80" width="5.78" height="27.50" fill="url(#st)"/>
<rect x="158.72" y="318.70" width="5.78" height="2.60" fill="url(#st)"/>
<rect x="164.45" y="316.80" width="5.78" height="4.50" fill="url(#st)"/>
<rect x="170.18" y="317.90" width="5.78" height="3.40" fill="url(#st)"/>
<rect x="175.91" y="315.00" width="5.78" height="6.30" fill="url(#st)"/>
<rect x="181.64" y="317.40" width="5.78" height="3.90" fill="url(#st)"/>
<rect x="187.37" y="311.50" width="5.78" height="9.80" fill="url(#st)"/>
<rect x="193.10" y="316.60" width="5.78" height="4.70" fill="url(#st)"/>
<rect x="198.83" y="318.40" width="5.78" height="2.90" fill="url(#st)"/>
<rect x="204.56" y="306.60" width="5.78" height="14.70" fill="url(#st)"/>
<rect x="210.29" y="315.20" width="5.78" height="6.10" fill="url(#st)"/>
<rect x="216.02" y="296.20" width="5.78" height="25.10" fill="url(#st)"/>
<rect x="221.75" y="316.00" width="5.78" height="5.30" fill="url(#st)"/>
<rect x="227.48" y="293.80" width="5.78" height="27.50" fill="url(#st)"/>
<rect x="233.21" y="301.30" width="5.78" height="20.00" fill="url(#st)"/>
<rect x="238.94" y="197.30" width="5.78" height="124.00" fill="url(#st)"/>
<path d="M26.93 287.10V321.30M32.66 265.90V321.30M38.39 289.20V321.30M44.12 289.20V321.30M49.85 288.40V321.30M55.58 313.60V321.30M72.77 318.70V321.30M118.61 318.40V321.30M124.34 316.80V321.30M141.53 309.30V321.30M158.72 318.70V321.30M164.45 318.70V321.30M170.18 317.90V321.30M175.91 317.90V321.30M181.64 317.40V321.30M187.37 317.40V321.30M193.10 316.60V321.30M198.83 318.40V321.30M204.56 318.40V321.30M210.29 315.20V321.30M216.02 315.20V321.30M221.75 316.00V321.30M227.48 316.00V321.30M233.21 301.30V321.30M238.94 301.30V321.30" stroke="#333" stroke-opacity="0.65" stroke-width="0.8" fill="none"/>
<path d="M21.20 321.30V287.10H26.93V265.90H32.66V254.40H38.39V289.20H44.12V288.40H49.85V257.00H55.58V313.60H61.31V321.30H67.04V316.00H72.77V318.70H78.50V321.30H84.23V312.00H89.96V321.30H95.69V315.20H101.42V321.30H107.15V321.30H112.88V318.40H118.61V315.80H124.34V316.80H130.07V321.30H135.80V309.30H141.53V308.80H147.26V321.30H152.99V293.80H158.72V318.70H164.45V316.80H170.18V317.90H175.91V315.00H181.64V317.40H187.37V311.50H193.10V316.60H198.83V318.40H204.56V306.60H210.29V315.20H216.02V296.20H221.75V316.00H227.48V293.80H233.21V301.30H238.94V197.30H244.67V321.30" stroke="#2e2e2e" stroke-width="0.90" fill="none" stroke-linejoin="miter"/>
<path d="M20.7 349.3V476.8" stroke="#222" stroke-width="1" fill="none"/>
<path d="M20.2 476.8H244.4" stroke="#3a3a3a" stroke-width="0.9" fill="none"/>
<path d="M18.7 476.8H20.7" stroke="#222" stroke-width="1" fill="none"/>
<text x="17.3" y="478.9" font-size="7.2" text-anchor="end" class="tk">0</text>
<path d="M18.7 460.9H20.7" stroke="#222" stroke-width="1" fill="none"/>
<text x="17.3" y="463.0" font-size="7.2" text-anchor="end" class="tk">200</text>
<path d="M18.7 444.9H20.7" stroke="#222" stroke-width="1" fill="none"/>
<text x="17.3" y="447.0" font-size="7.2" text-anchor="end" class="tk">400</text>
<path d="M18.7 429.0H20.7" stroke="#222" stroke-width="1" fill="none"/>
<text x="17.3" y="431.1" font-size="7.2" text-anchor="end" class="tk">600</text>
<path d="M18.7 413.0H20.7" stroke="#222" stroke-width="1" fill="none"/>
<text x="17.3" y="415.1" font-size="7.2" text-anchor="end" class="tk">800</text>
<path d="M18.7 397.1H20.7" stroke="#222" stroke-width="1" fill="none"/>
<text x="17.3" y="399.2" font-size="7.2" text-anchor="end" class="tk">1000</text>
<path d="M18.7 381.2H20.7" stroke="#222" stroke-width="1" fill="none"/>
<text x="17.3" y="383.3" font-size="7.2" text-anchor="end" class="tk">1200</text>
<path d="M18.7 365.2H20.7" stroke="#222" stroke-width="1" fill="none"/>
<text x="17.3" y="367.3" font-size="7.2" text-anchor="end" class="tk">1400</text>
<path d="M18.7 349.3H20.7" stroke="#222" stroke-width="1" fill="none"/>
<text x="17.3" y="351.4" font-size="7.2" text-anchor="end" class="tk">1600</text>
<rect x="26.43" y="470.60" width="5.78" height="6.20" fill="url(#st)"/>
<rect x="32.16" y="472.70" width="5.78" height="4.10" fill="url(#st)"/>
<rect x="37.89" y="466.00" width="5.78" height="10.80" fill="url(#st)"/>
<rect x="43.62" y="466.50" width="5.78" height="10.30" fill="url(#st)"/>
<rect x="55.08" y="424.50" width="5.78" height="52.30" fill="url(#st)"/>
<rect x="66.54" y="471.40" width="5.78" height="5.40" fill="url(#st)"/>
<rect x="72.27" y="343.50" width="5.78" height="133.30" fill="url(#st)"/>
<rect x="78.00" y="474.00" width="5.78" height="2.80" fill="url(#st)"/>
<rect x="83.73" y="468.70" width="5.78" height="8.10" fill="url(#st)"/>
<rect x="89.46" y="464.90" width="5.78" height="11.90" fill="url(#st)"/>
<rect x="95.19" y="471.90" width="5.78" height="4.90" fill="url(#st)"/>
<rect x="100.92" y="466.50" width="5.78" height="10.30" fill="url(#st)"/>
<rect x="106.65" y="434.40" width="5.78" height="42.40" fill="url(#st)"/>
<rect x="112.38" y="447.20" width="5.78" height="29.60" fill="url(#st)"/>
<rect x="118.11" y="410.20" width="5.78" height="66.60" fill="url(#st)"/>
<rect x="123.84" y="443.80" width="5.78" height="33.00" fill="url(#st)"/>
<rect x="129.57" y="449.10" width="5.78" height="27.70" fill="url(#st)"/>
<rect x="135.30" y="427.90" width="5.78" height="48.90" fill="url(#st)"/>
<rect x="141.03" y="426.60" width="5.78" height="50.20" fill="url(#st)"/>
<rect x="146.76" y="374.30" width="5.78" height="102.50" fill="url(#st)"/>
<rect x="152.49" y="359.30" width="5.78" height="117.50" fill="url(#st)"/>
<rect x="158.22" y="435.40" width="5.78" height="41.40" fill="url(#st)"/>
<rect x="163.95" y="437.10" width="5.78" height="39.70" fill="url(#st)"/>
<rect x="169.68" y="390.90" width="5.78" height="85.90" fill="url(#st)"/>
<rect x="175.41" y="433.80" width="5.78" height="43.00" fill="url(#st)"/>
<rect x="181.14" y="411.00" width="5.78" height="65.80" fill="url(#st)"/>
<rect x="186.87" y="453.90" width="5.78" height="22.90" fill="url(#st)"/>
<rect x="192.60" y="446.40" width="5.78" height="30.40" fill="url(#st)"/>
<rect x="198.33" y="467.30" width="5.78" height="9.50" fill="url(#st)"/>
<rect x="204.06" y="418.30" width="5.78" height="58.50" fill="url(#st)"/>
<rect x="215.52" y="425.80" width="5.78" height="51.00" fill="url(#st)"/>
<rect x="221.25" y="463.30" width="5.78" height="13.50" fill="url(#st)"/>
<rect x="226.98" y="444.00" width="5.78" height="32.80" fill="url(#st)"/>
<rect x="232.71" y="405.10" width="5.78" height="71.70" fill="url(#st)"/>
<rect x="238.44" y="447.80" width="5.78" height="29.00" fill="url(#st)"/>
<path d="M32.16 472.70V476.80M37.89 472.70V476.80M43.62 466.50V476.80M72.27 471.40V476.80M78.00 474.00V476.80M83.73 474.00V476.80M89.46 468.70V476.80M95.19 471.90V476.80M100.92 471.90V476.80M106.65 466.50V476.80M112.38 447.20V476.80M118.11 447.20V476.80M123.84 443.80V476.80M129.57 449.10V476.80M135.30 449.10V476.80M141.03 427.90V476.80M146.76 426.60V476.80M152.49 374.30V476.80M158.22 435.40V476.80M163.95 437.10V476.80M169.68 437.10V476.80M175.41 433.80V476.80M181.14 433.80V476.80M186.87 453.90V476.80M192.60 453.90V476.80M198.33 467.30V476.80M204.06 467.30V476.80M221.25 463.30V476.80M226.98 463.30V476.80M232.71 444.00V476.80M238.44 447.80V476.80" stroke="#333" stroke-opacity="0.65" stroke-width="0.8" fill="none"/>
<path d="M20.70 476.80V476.80H26.43V470.60H32.16V472.70H37.89V466.00H43.62V466.50H49.35V476.80H55.08V424.50H60.81V476.80H66.54V471.40H72.27V343.50H78.00V474.00H83.73V468.70H89.46V464.90H95.19V471.90H100.92V466.50H106.65V434.40H112.38V447.20H118.11V410.20H123.84V443.80H129.57V449.10H135.30V427.90H141.03V426.60H146.76V374.30H152.49V359.30H158.22V435.40H163.95V437.10H169.68V390.90H175.41V433.80H181.14V411.00H186.87V453.90H192.60V446.40H198.33V467.30H204.06V418.30H209.79V476.80H215.52V425.80H221.25V463.30H226.98V444.00H232.71V405.10H238.44V447.80H244.17V476.80" stroke="#2e2e2e" stroke-width="0.90" fill="none" stroke-linejoin="miter"/>
<path d="M294.6 37.5V164.6" stroke="#222" stroke-width="1" fill="none"/>
<path d="M294.1 164.6H518.9" stroke="#3a3a3a" stroke-width="0.9" fill="none"/>
<path d="M292.6 164.6H294.6" stroke="#222" stroke-width="1" fill="none"/>
<text x="291.2" y="166.7" font-size="7.2" text-anchor="end" class="tk">0</text>
<path d="M292.6 146.4H294.6" stroke="#222" stroke-width="1" fill="none"/>
<text x="291.2" y="148.5" font-size="7.2" text-anchor="end" class="tk">1000</text>
<path d="M292.6 128.3H294.6" stroke="#222" stroke-width="1" fill="none"/>
<text x="291.2" y="130.4" font-size="7.2" text-anchor="end" class="tk">2000</text>
<path d="M292.6 110.1H294.6" stroke="#222" stroke-width="1" fill="none"/>
<text x="291.2" y="112.2" font-size="7.2" text-anchor="end" class="tk">3000</text>
<path d="M292.6 92.0H294.6" stroke="#222" stroke-width="1" fill="none"/>
<text x="291.2" y="94.1" font-size="7.2" text-anchor="end" class="tk">4000</text>
<path d="M292.6 73.8H294.6" stroke="#222" stroke-width="1" fill="none"/>
<text x="291.2" y="75.9" font-size="7.2" text-anchor="end" class="tk">5000</text>
<path d="M292.6 55.6H294.6" stroke="#222" stroke-width="1" fill="none"/>
<text x="291.2" y="57.7" font-size="7.2" text-anchor="end" class="tk">6000</text>
<path d="M292.6 37.5H294.6" stroke="#222" stroke-width="1" fill="none"/>
<text x="291.2" y="39.6" font-size="7.2" text-anchor="end" class="tk">7000</text>
<rect x="294.10" y="111.10" width="5.16" height="53.50" fill="url(#st)"/>
<rect x="299.21" y="119.20" width="5.16" height="45.40" fill="url(#st)"/>
<rect x="304.31" y="114.60" width="5.16" height="50.00" fill="url(#st)"/>
<rect x="309.42" y="121.30" width="5.16" height="43.30" fill="url(#st)"/>
<rect x="314.52" y="136.60" width="5.16" height="28.00" fill="url(#st)"/>
<rect x="319.63" y="86.20" width="5.16" height="78.40" fill="url(#st)"/>
<rect x="324.74" y="96.90" width="5.16" height="67.70" fill="url(#st)"/>
<rect x="329.84" y="133.40" width="5.16" height="31.20" fill="url(#st)"/>
<rect x="334.95" y="120.00" width="5.16" height="44.60" fill="url(#st)"/>
<rect x="340.05" y="124.00" width="5.16" height="40.60" fill="url(#st)"/>
<rect x="345.16" y="90.20" width="5.16" height="74.40" fill="url(#st)"/>
<rect x="350.27" y="119.20" width="5.16" height="45.40" fill="url(#st)"/>
<rect x="355.37" y="36.00" width="5.16" height="128.60" fill="url(#st)"/>
<rect x="360.48" y="115.90" width="5.16" height="48.70" fill="url(#st)"/>
<rect x="365.58" y="97.70" width="5.16" height="66.90" fill="url(#st)"/>
<rect x="370.69" y="62.90" width="5.16" height="101.70" fill="url(#st)"/>
<rect x="375.80" y="107.90" width="5.16" height="56.70" fill="url(#st)"/>
<rect x="380.90" y="66.30" width="5.16" height="98.30" fill="url(#st)"/>
<rect x="386.01" y="108.40" width="5.16" height="56.20" fill="url(#st)"/>
<rect x="391.11" y="60.20" width="5.16" height="104.40" fill="url(#st)"/>
<rect x="396.22" y="144.10" width="5.16" height="20.50" fill="url(#st)"/>
<rect x="401.33" y="128.00" width="5.16" height="36.60" fill="url(#st)"/>
<rect x="406.43" y="154.00" width="5.16" height="10.60" fill="url(#st)"/>
<rect x="411.54" y="127.20" width="5.16" height="37.40" fill="url(#st)"/>
<rect x="416.64" y="140.60" width="5.16" height="24.00" fill="url(#st)"/>
<rect x="421.75" y="127.50" width="5.16" height="37.10" fill="url(#st)"/>
<rect x="426.86" y="134.70" width="5.16" height="29.90" fill="url(#st)"/>
<rect x="431.96" y="129.90" width="5.16" height="34.70" fill="url(#st)"/>
<rect x="437.07" y="114.30" width="5.16" height="50.30" fill="url(#st)"/>
<rect x="442.17" y="112.50" width="5.16" height="52.10" fill="url(#st)"/>
<rect x="447.28" y="125.90" width="5.16" height="38.70" fill="url(#st)"/>
<rect x="452.39" y="125.10" width="5.16" height="39.50" fill="url(#st)"/>
<rect x="457.49" y="128.50" width="5.16" height="36.10" fill="url(#st)"/>
<rect x="462.60" y="113.80" width="5.16" height="50.80" fill="url(#st)"/>
<rect x="467.70" y="117.80" width="5.16" height="46.80" fill="url(#st)"/>
<rect x="472.81" y="101.70" width="5.16" height="62.90" fill="url(#st)"/>
<rect x="477.92" y="163.60" width="5.16" height="1.00" fill="url(#st)"/>
<rect x="483.02" y="147.30" width="5.16" height="17.30" fill="url(#st)"/>
<rect x="488.13" y="125.10" width="5.16" height="39.50" fill="url(#st)"/>
<rect x="493.23" y="145.20" width="5.16" height="19.40" fill="url(#st)"/>
<rect x="498.34" y="135.20" width="5.16" height="29.40" fill="url(#st)"/>
<rect x="503.45" y="120.50" width="5.16" height="44.10" fill="url(#st)"/>
<rect x="508.55" y="129.10" width="5.16" height="35.50" fill="url(#st)"/>
<rect x="513.66" y="154.00" width="5.16" height="10.60" fill="url(#st)"/>
<path d="M299.21 119.20V164.60M304.31 119.20V164.60M309.42 121.30V164.60M314.52 136.60V164.60M319.63 136.60V164.60M324.74 96.90V164.60M329.84 133.40V164.60M334.95 133.40V164.60M340.05 124.00V164.60M345.16 124.00V164.60M350.27 119.20V164.60M355.37 119.20V164.60M360.48 115.90V164.60M365.58 115.90V164.60M370.69 97.70V164.60M375.80 107.90V164.60M380.90 107.90V164.60M386.01 108.40V164.60M391.11 108.40V164.60M396.22 144.10V164.60M401.33 144.10V164.60M406.43 154.00V164.60M411.54 154.00V164.60M416.64 140.60V164.60M421.75 140.60V164.60M426.86 134.70V164.60M431.96 134.70V164.60M437.07 129.90V164.60M442.17 114.30V164.60M447.28 125.90V164.60M452.39 125.90V164.60M457.49 128.50V164.60M462.60 128.50V164.60M467.70 117.80V164.60M472.81 117.80V164.60M477.92 163.60V164.60M483.02 163.60V164.60M488.13 147.30V164.60M493.23 145.20V164.60M498.34 145.20V164.60M503.45 135.20V164.60M508.55 129.10V164.60M513.66 154.00V164.60" stroke="#333" stroke-opacity="0.65" stroke-width="0.8" fill="none"/>
<path d="M294.10 164.60V111.10H299.21V119.20H304.31V114.60H309.42V121.30H314.52V136.60H319.63V86.20H324.74V96.90H329.84V133.40H334.95V120.00H340.05V124.00H345.16V90.20H350.27V119.20H355.37V36.00H360.48V115.90H365.58V97.70H370.69V62.90H375.80V107.90H380.90V66.30H386.01V108.40H391.11V60.20H396.22V144.10H401.33V128.00H406.43V154.00H411.54V127.20H416.64V140.60H421.75V127.50H426.86V134.70H431.96V129.90H437.07V114.30H442.17V112.50H447.28V125.90H452.39V125.10H457.49V128.50H462.60V113.80H467.70V117.80H472.81V101.70H477.92V163.60H483.02V147.30H488.13V125.10H493.23V145.20H498.34V135.20H503.45V120.50H508.55V129.10H513.66V154.00H518.76V164.60" stroke="#2e2e2e" stroke-width="0.90" fill="none" stroke-linejoin="miter"/>
<path d="M294.5 194.8V321.0" stroke="#222" stroke-width="1" fill="none"/>
<path d="M294.0 321.0H518.8" stroke="#3a3a3a" stroke-width="0.9" fill="none"/>
<path d="M292.5 321.0H294.5" stroke="#222" stroke-width="1" fill="none"/>
<text x="291.1" y="323.1" font-size="7.8" text-anchor="end" class="tk">0</text>
<path d="M292.5 295.8H294.5" stroke="#222" stroke-width="1" fill="none"/>
<text x="291.1" y="297.9" font-size="7.8" text-anchor="end" class="tk">5000</text>
<path d="M292.5 270.5H294.5" stroke="#222" stroke-width="1" fill="none"/>
<text x="291.1" y="272.6" font-size="7.8" text-anchor="end" class="tk">10000</text>
<path d="M292.5 245.3H294.5" stroke="#222" stroke-width="1" fill="none"/>
<text x="291.1" y="247.4" font-size="7.8" text-anchor="end" class="tk">15000</text>
<path d="M292.5 220.0H294.5" stroke="#222" stroke-width="1" fill="none"/>
<text x="291.1" y="222.1" font-size="7.8" text-anchor="end" class="tk">20000</text>
<path d="M292.5 194.8H294.5" stroke="#222" stroke-width="1" fill="none"/>
<text x="291.1" y="196.9" font-size="7.8" text-anchor="end" class="tk">25000</text>
<rect x="294.50" y="288.40" width="5.14" height="32.60" fill="url(#st)"/>
<rect x="299.60" y="256.20" width="5.14" height="64.80" fill="url(#st)"/>
<rect x="304.69" y="260.30" width="5.14" height="60.70" fill="url(#st)"/>
<rect x="309.79" y="301.30" width="5.14" height="19.70" fill="url(#st)"/>
<rect x="314.88" y="239.60" width="5.14" height="81.40" fill="url(#st)"/>
<rect x="319.98" y="275.30" width="5.14" height="45.70" fill="url(#st)"/>
<rect x="325.07" y="298.10" width="5.14" height="22.90" fill="url(#st)"/>
<rect x="330.17" y="267.20" width="5.14" height="53.80" fill="url(#st)"/>
<rect x="335.26" y="298.10" width="5.14" height="22.90" fill="url(#st)"/>
<rect x="340.36" y="265.60" width="5.14" height="55.40" fill="url(#st)"/>
<rect x="345.45" y="279.00" width="5.14" height="42.00" fill="url(#st)"/>
<rect x="350.55" y="295.10" width="5.14" height="25.90" fill="url(#st)"/>
<rect x="355.64" y="243.60" width="5.14" height="77.40" fill="url(#st)"/>
<rect x="360.74" y="313.30" width="5.14" height="7.70" fill="url(#st)"/>
<rect x="365.83" y="264.30" width="5.14" height="56.70" fill="url(#st)"/>
<rect x="370.93" y="277.20" width="5.14" height="43.80" fill="url(#st)"/>
<rect x="376.02" y="245.00" width="5.14" height="76.00" fill="url(#st)"/>
<rect x="381.12" y="243.60" width="5.14" height="77.40" fill="url(#st)"/>
<rect x="386.21" y="228.90" width="5.14" height="92.10" fill="url(#st)"/>
<rect x="391.31" y="202.10" width="5.14" height="118.90" fill="url(#st)"/>
<rect x="396.40" y="310.70" width="5.14" height="10.30" fill="url(#st)"/>
<rect x="401.50" y="283.90" width="5.14" height="37.10" fill="url(#st)"/>
<rect x="406.59" y="319.50" width="5.14" height="1.50" fill="url(#st)"/>
<rect x="411.69" y="273.90" width="5.14" height="47.10" fill="url(#st)"/>
<rect x="416.78" y="310.10" width="5.14" height="10.90" fill="url(#st)"/>
<rect x="421.88" y="299.10" width="5.14" height="21.90" fill="url(#st)"/>
<rect x="426.97" y="305.80" width="5.14" height="15.20" fill="url(#st)"/>
<rect x="432.06" y="295.10" width="5.14" height="25.90" fill="url(#st)"/>
<rect x="437.16" y="301.80" width="5.14" height="19.20" fill="url(#st)"/>
<rect x="442.25" y="267.80" width="5.14" height="53.20" fill="url(#st)"/>
<rect x="447.35" y="298.60" width="5.14" height="22.40" fill="url(#st)"/>
<rect x="452.44" y="282.50" width="5.14" height="38.50" fill="url(#st)"/>
<rect x="457.54" y="292.70" width="5.14" height="28.30" fill="url(#st)"/>
<rect x="462.63" y="296.70" width="5.14" height="24.30" fill="url(#st)"/>
<rect x="467.73" y="304.00" width="5.14" height="17.00" fill="url(#st)"/>
<rect x="472.82" y="297.30" width="5.14" height="23.70" fill="url(#st)"/>
<rect x="477.92" y="318.70" width="5.14" height="2.30" fill="url(#st)"/>
<rect x="483.01" y="308.00" width="5.14" height="13.00" fill="url(#st)"/>
<rect x="488.11" y="275.30" width="5.14" height="45.70" fill="url(#st)"/>
<rect x="493.20" y="315.20" width="5.14" height="5.80" fill="url(#st)"/>
<rect x="498.30" y="308.00" width="5.14" height="13.00" fill="url(#st)"/>
<rect x="503.39" y="304.00" width="5.14" height="17.00" fill="url(#st)"/>
<rect x="508.49" y="310.70" width="5.14" height="10.30" fill="url(#st)"/>
<rect x="513.59" y="312.00" width="5.14" height="9.00" fill="url(#st)"/>
<path d="M299.60 288.40V321.00M304.69 260.30V321.00M309.79 301.30V321.00M314.88 301.30V321.00M319.98 275.30V321.00M325.07 298.10V321.00M330.17 298.10V321.00M335.26 298.10V321.00M340.36 298.10V321.00M345.45 279.00V321.00M350.55 295.10V321.00M355.64 295.10V321.00M360.74 313.30V321.00M365.83 313.30V321.00M370.93 277.20V321.00M376.02 277.20V321.00M381.12 245.00V321.00M386.21 243.60V321.00M391.31 228.90V321.00M396.40 310.70V321.00M401.50 310.70V321.00M406.59 319.50V321.00M411.69 319.50V321.00M416.78 310.10V321.00M421.88 310.10V321.00M426.97 305.80V321.00M432.06 305.80V321.00M437.16 301.80V321.00M442.25 301.80V321.00M447.35 298.60V321.00M452.44 298.60V321.00M457.54 292.70V321.00M462.63 296.70V321.00M467.73 304.00V321.00M472.82 304.00V321.00M477.92 318.70V321.00M483.01 318.70V321.00M488.11 308.00V321.00M493.20 315.20V321.00M498.30 315.20V321.00M503.39 308.00V321.00M508.49 310.70V321.00M513.59 312.00V321.00" stroke="#333" stroke-opacity="0.65" stroke-width="0.8" fill="none"/>
<path d="M294.50 321.00V288.40H299.60V256.20H304.69V260.30H309.79V301.30H314.88V239.60H319.98V275.30H325.07V298.10H330.17V267.20H335.26V298.10H340.36V265.60H345.45V279.00H350.55V295.10H355.64V243.60H360.74V313.30H365.83V264.30H370.93V277.20H376.02V245.00H381.12V243.60H386.21V228.90H391.31V202.10H396.40V310.70H401.50V283.90H406.59V319.50H411.69V273.90H416.78V310.10H421.88V299.10H426.97V305.80H432.06V295.10H437.16V301.80H442.25V267.80H447.35V298.60H452.44V282.50H457.54V292.70H462.63V296.70H467.73V304.00H472.82V297.30H477.92V318.70H483.01V308.00H488.11V275.30H493.20V315.20H498.30V308.00H503.39V304.00H508.49V310.70H513.59V312.00H518.68V321.00" stroke="#2e2e2e" stroke-width="0.90" fill="none" stroke-linejoin="miter"/>
<path d="M294.4 350.7V476.3" stroke="#222" stroke-width="1" fill="none"/>
<path d="M293.9 476.3H518.5" stroke="#3a3a3a" stroke-width="0.9" fill="none"/>
<path d="M292.4 476.3H294.4" stroke="#222" stroke-width="1" fill="none"/>
<text x="291.0" y="478.4" font-size="7.8" text-anchor="end" class="tk">0</text>
<path d="M292.4 451.2H294.4" stroke="#222" stroke-width="1" fill="none"/>
<text x="291.0" y="453.3" font-size="7.8" text-anchor="end" class="tk">5000</text>
<path d="M292.4 426.1H294.4" stroke="#222" stroke-width="1" fill="none"/>
<text x="291.0" y="428.2" font-size="7.8" text-anchor="end" class="tk">10000</text>
<path d="M292.4 400.9H294.4" stroke="#222" stroke-width="1" fill="none"/>
<text x="291.0" y="403.0" font-size="7.8" text-anchor="end" class="tk">15000</text>
<path d="M292.4 375.8H294.4" stroke="#222" stroke-width="1" fill="none"/>
<text x="291.0" y="377.9" font-size="7.8" text-anchor="end" class="tk">20000</text>
<path d="M292.4 350.7H294.4" stroke="#222" stroke-width="1" fill="none"/>
<text x="291.0" y="352.8" font-size="7.8" text-anchor="end" class="tk">25000</text>
<rect x="294.40" y="421.80" width="5.12" height="54.50" fill="url(#st)"/>
<rect x="299.47" y="399.80" width="5.12" height="76.50" fill="url(#st)"/>
<rect x="304.55" y="433.00" width="5.12" height="43.30" fill="url(#st)"/>
<rect x="309.62" y="398.40" width="5.12" height="77.90" fill="url(#st)"/>
<rect x="314.70" y="453.90" width="5.12" height="22.40" fill="url(#st)"/>
<rect x="319.77" y="444.00" width="5.12" height="32.30" fill="url(#st)"/>
<rect x="324.85" y="417.20" width="5.12" height="59.10" fill="url(#st)"/>
<rect x="329.92" y="384.80" width="5.12" height="91.50" fill="url(#st)"/>
<rect x="335.00" y="449.90" width="5.12" height="26.40" fill="url(#st)"/>
<rect x="340.07" y="473.50" width="5.12" height="2.80" fill="url(#st)"/>
<rect x="345.15" y="410.20" width="5.12" height="66.10" fill="url(#st)"/>
<rect x="350.22" y="437.30" width="5.12" height="39.00" fill="url(#st)"/>
<rect x="355.30" y="358.80" width="5.12" height="117.50" fill="url(#st)"/>
<rect x="360.38" y="442.70" width="5.12" height="33.60" fill="url(#st)"/>
<rect x="365.45" y="394.40" width="5.12" height="81.90" fill="url(#st)"/>
<rect x="370.52" y="414.30" width="5.12" height="62.00" fill="url(#st)"/>
<rect x="375.60" y="356.10" width="5.12" height="120.20" fill="url(#st)"/>
<rect x="380.67" y="425.80" width="5.12" height="50.50" fill="url(#st)"/>
<rect x="385.75" y="379.40" width="5.12" height="96.90" fill="url(#st)"/>
<rect x="390.82" y="399.00" width="5.12" height="77.30" fill="url(#st)"/>
<rect x="395.90" y="473.20" width="5.12" height="3.10" fill="url(#st)"/>
<rect x="400.97" y="474.90" width="5.12" height="1.40" fill="url(#st)"/>
<rect x="406.05" y="473.50" width="5.12" height="2.80" fill="url(#st)"/>
<rect x="411.12" y="472.20" width="5.12" height="4.10" fill="url(#st)"/>
<rect x="416.20" y="466.00" width="5.12" height="10.30" fill="url(#st)"/>
<rect x="421.27" y="474.00" width="5.12" height="2.30" fill="url(#st)"/>
<rect x="426.35" y="475.40" width="5.12" height="0.90" fill="url(#st)"/>
<rect x="431.42" y="468.20" width="5.12" height="8.10" fill="url(#st)"/>
<rect x="436.50" y="474.00" width="5.12" height="2.30" fill="url(#st)"/>
<rect x="441.57" y="475.40" width="5.12" height="0.90" fill="url(#st)"/>
<rect x="446.65" y="473.20" width="5.12" height="3.10" fill="url(#st)"/>
<rect x="451.73" y="474.00" width="5.12" height="2.30" fill="url(#st)"/>
<rect x="456.80" y="464.90" width="5.12" height="11.40" fill="url(#st)"/>
<rect x="461.88" y="474.90" width="5.12" height="1.40" fill="url(#st)"/>
<rect x="466.95" y="468.40" width="5.12" height="7.90" fill="url(#st)"/>
<rect x="472.02" y="474.90" width="5.12" height="1.40" fill="url(#st)"/>
<rect x="477.10" y="426.30" width="5.12" height="50.00" fill="url(#st)"/>
<rect x="482.17" y="456.10" width="5.12" height="20.20" fill="url(#st)"/>
<rect x="492.32" y="473.50" width="5.12" height="2.80" fill="url(#st)"/>
<rect x="497.40" y="443.20" width="5.12" height="33.10" fill="url(#st)"/>
<rect x="502.48" y="468.70" width="5.12" height="7.60" fill="url(#st)"/>
<rect x="507.55" y="473.50" width="5.12" height="2.80" fill="url(#st)"/>
<path d="M299.47 421.80V476.30M304.55 433.00V476.30M309.62 433.00V476.30M314.70 453.90V476.30M319.77 453.90V476.30M324.85 444.00V476.30M329.92 417.20V476.30M335.00 449.90V476.30M340.07 473.50V476.30M345.15 473.50V476.30M350.22 437.30V476.30M355.30 437.30V476.30M360.38 442.70V476.30M365.45 442.70V476.30M370.52 414.30V476.30M375.60 414.30V476.30M380.67 425.80V476.30M385.75 425.80V476.30M390.82 399.00V476.30M395.90 473.20V476.30M400.97 474.90V476.30M406.05 474.90V476.30M411.12 473.50V476.30M416.20 472.20V476.30M421.27 474.00V476.30M426.35 475.40V476.30M431.42 475.40V476.30M436.50 474.00V476.30M441.57 475.40V476.30M446.65 475.40V476.30M451.73 474.00V476.30M456.80 474.00V476.30M461.88 474.90V476.30M466.95 474.90V476.30M472.02 474.90V476.30M477.10 474.90V476.30M482.17 456.10V476.30M497.40 473.50V476.30M502.48 468.70V476.30M507.55 473.50V476.30" stroke="#333" stroke-opacity="0.65" stroke-width="0.8" fill="none"/>
<path d="M294.40 476.30V421.80H299.47V399.80H304.55V433.00H309.62V398.40H314.70V453.90H319.77V444.00H324.85V417.20H329.92V384.80H335.00V449.90H340.07V473.50H345.15V410.20H350.22V437.30H355.30V358.80H360.38V442.70H365.45V394.40H370.52V414.30H375.60V356.10H380.67V425.80H385.75V379.40H390.82V399.00H395.90V473.20H400.97V474.90H406.05V473.50H411.12V472.20H416.20V466.00H421.27V474.00H426.35V475.40H431.42V468.20H436.50V474.00H441.57V475.40H446.65V473.20H451.73V474.00H456.80V464.90H461.88V474.90H466.95V468.40H472.02V474.90H477.10V426.30H482.17V456.10H487.25V476.30H492.32V473.50H497.40V443.20H502.48V468.70H507.55V473.50H512.62V476.30H517.70V476.30" stroke="#2e2e2e" stroke-width="0.90" fill="none" stroke-linejoin="miter"/>
<path d="M227.5 28.6V172.8" stroke="#111" stroke-width="1.15" fill="none"/>
<path d="M226.8 184.6V328.9" stroke="#111" stroke-width="1.15" fill="none"/>
<path d="M226.7 339.8V481.0" stroke="#111" stroke-width="1.15" fill="none"/>
<path d="M396.3 28.6V173.8" stroke="#111" stroke-width="1.15" fill="none"/>
<path d="M396.3 184.2V328.6" stroke="#111" stroke-width="1.15" fill="none"/>
<path d="M396.0 339.8V484.0" stroke="#111" stroke-width="1.15" fill="none"/>
<path d="M20.5 478.5Q20.5 482.3 24.0 482.3H120.0Q123.5 482.3 123.5 487.2Q123.5 482.3 127.0 482.3H223.0Q226.5 482.3 226.5 478.5" stroke="#222" stroke-width="1.1" fill="none"/>
<path d="M227.5 478.5Q227.5 482.3 231.0 482.3H231.8Q235.3 482.3 235.3 486.0Q235.3 482.3 238.8 482.3H241.0Q244.5 482.3 244.5 478.5" stroke="#222" stroke-width="1.1" fill="none"/>
<path d="M293.0 478.5Q293.0 482.3 296.5 482.3H341.0Q344.5 482.3 344.5 487.2Q344.5 482.3 348.0 482.3H391.8Q395.3 482.3 395.3 478.5" stroke="#222" stroke-width="1.1" fill="none"/>
<path d="M396.5 478.5Q396.5 482.3 400.0 482.3H453.0Q456.5 482.3 456.5 487.2Q456.5 482.3 460.0 482.3H513.0Q516.5 482.3 516.5 478.5" stroke="#222" stroke-width="1.1" fill="none"/>
<text x="136.0" y="14" font-size="17" text-anchor="middle" class="t" letter-spacing="0.45">T-ALL</text>
<text x="407.6" y="14" font-size="17" text-anchor="middle" class="t" letter-spacing="0.3">B-ALL</text>
<text x="26.3" y="27.5" font-size="11.4" class="g">ADAM10</text>
<text x="26.6" y="182.1" font-size="11.4" class="g">LMO2</text>
<text x="26.0" y="337.4" font-size="11.4" class="g">S100A10</text>
<text x="301.9" y="27.9" font-size="11.4" class="g">ADAM10</text>
<text x="301.2" y="182.4" font-size="11.4" class="g">LMO2</text>
<text x="300.2" y="337.9" font-size="11.4" class="g">S100A10</text>
<text x="124.2" y="503.3" font-size="13.3" text-anchor="middle" class="t">T-ALL</text>
<text x="235.3" y="503.3" font-size="13.3" text-anchor="middle" class="t" letter-spacing="0.2">MLL/ENL</text>
<text x="234.8" y="520.0" font-size="13.3" text-anchor="middle" class="t">T-ALL</text>
<text x="344.7" y="503.3" font-size="13.3" text-anchor="middle" class="t">MLL B-ALL</text>
<text x="457.2" y="503.3" font-size="13.3" text-anchor="middle" class="t">B-ALL</text>
</svg>
</body></html>
